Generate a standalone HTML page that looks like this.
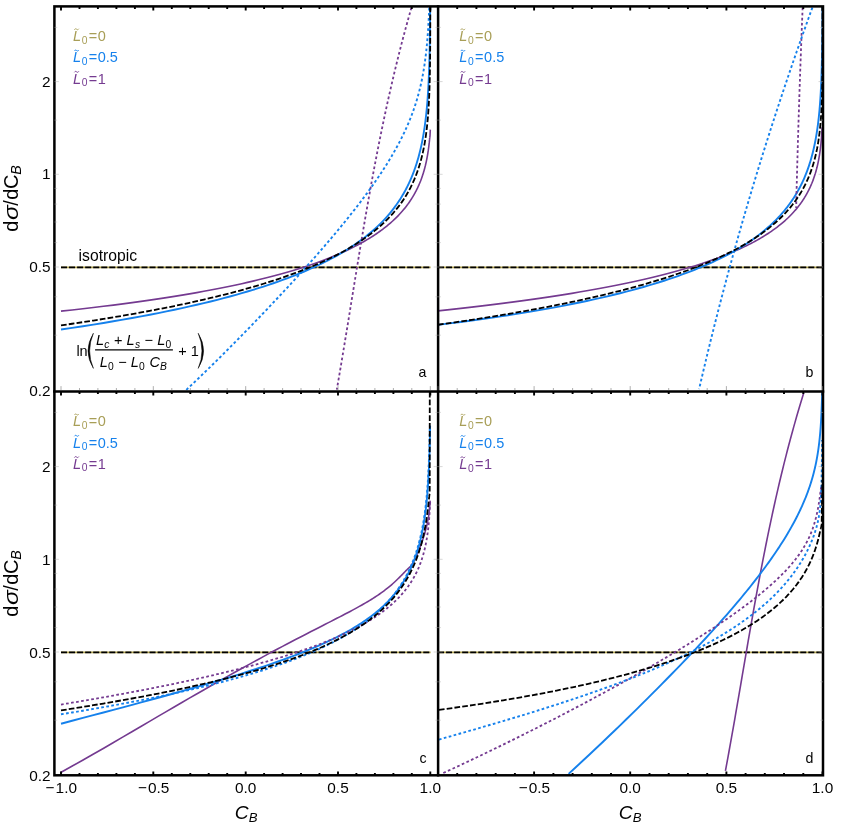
<!DOCTYPE html><html><head><meta charset="utf-8"><title>plot</title>
<style>html,body{margin:0;padding:0;background:#fff}svg{display:block}text{font-family:"Liberation Sans",sans-serif}</style></head><body>
<svg width="844" height="826" viewBox="0 0 844 826">
<rect width="844" height="826" fill="#fff"/>
<defs>
<clipPath id="cpa"><rect x="54.4" y="6.4" width="383.8" height="385.0"/></clipPath>
<clipPath id="cpb"><rect x="438.1" y="6.4" width="384.9" height="385.0"/></clipPath>
<clipPath id="cpc"><rect x="54.4" y="391.4" width="383.8" height="383.9"/></clipPath>
<clipPath id="cpd"><rect x="438.1" y="391.4" width="384.9" height="383.9"/></clipPath>
</defs>
<g clip-path="url(#cpa)" fill="none" stroke-linejoin="round">
<path d="M61.0 267.4 H430.6" stroke="#b3a552" stroke-width="1.9"/>
<path d="M61.0 267.4 H430.6" stroke="#000" stroke-width="1.8" stroke-dasharray="6.0 2.05"/>
<path d="M61.00 311.14 L72.12 309.95 L82.90 308.75 L93.35 307.54 L103.50 306.32 L113.33 305.10 L122.87 303.87 L132.13 302.64 L141.10 301.39 L149.81 300.15 L158.25 298.90 L166.44 297.64 L174.38 296.38 L182.08 295.12 L189.56 293.86 L196.80 292.59 L203.83 291.32 L210.65 290.05 L217.26 288.77 L223.67 287.50 L229.89 286.22 L235.92 284.95 L241.77 283.67 L247.45 282.40 L252.95 281.12 L258.29 279.84 L263.47 278.57 L268.49 277.30 L273.36 276.03 L278.08 274.75 L282.67 273.49 L287.11 272.22 L291.42 270.96 L295.60 269.69 L299.65 268.44 L303.59 267.18 L307.40 265.93 L311.10 264.68 L314.69 263.43 L318.17 262.19 L321.54 260.95 L324.82 259.71 L327.99 258.48 L331.07 257.25 L334.06 256.03 L336.95 254.81 L339.76 253.60 L342.49 252.39 L345.13 251.18 L347.70 249.98 L350.18 248.79 L352.59 247.60 L354.93 246.41 L357.20 245.23 L359.40 244.06 L361.54 242.89 L363.61 241.72 L365.61 240.56 L367.56 239.41 L369.45 238.26 L371.28 237.12 L373.06 235.99 L374.78 234.86 L376.45 233.73 L378.07 232.62 L379.64 231.50 L381.17 230.40 L382.65 229.30 L384.08 228.20 L385.47 227.12 L386.82 226.03 L388.13 224.96 L389.40 223.89 L390.63 222.83 L391.83 221.77 L392.98 220.72 L394.11 219.68 L395.20 218.64 L396.25 217.61 L397.28 216.58 L398.27 215.57 L399.24 214.55 L400.17 213.55 L401.08 212.55 L401.96 211.56 L402.81 210.57 L403.64 209.59 L404.44 208.62 L405.22 207.65 L405.97 206.69 L406.71 205.74 L407.42 204.79 L408.10 203.85 L408.77 202.92 L409.42 201.99 L410.05 201.07 L410.66 200.15 L411.25 199.25 L411.82 198.35 L412.38 197.45 L412.92 196.56 L413.44 195.68 L413.95 194.81 L414.44 193.94 L414.92 193.08 L415.38 192.22 L415.83 191.37 L416.27 190.53 L416.69 189.70 L417.10 188.87 L417.50 188.05 L417.88 187.23 L418.26 186.42 L418.62 185.62 L418.97 184.82 L419.31 184.03 L419.64 183.25 L419.96 182.47 L420.27 181.70 L420.58 180.94 L420.87 180.18 L421.15 179.43 L421.43 178.68 L421.69 177.94 L421.95 177.21 L422.20 176.49 L422.45 175.77 L422.68 175.06 L422.91 174.35 L423.14 173.65 L423.35 172.96 L423.56 172.27 L423.76 171.59 L423.96 170.92 L424.15 170.25 L424.34 169.59 L424.52 168.93 L424.69 168.29 L424.86 167.64 L425.02 167.01 L425.18 166.38 L425.34 165.76 L425.48 165.14 L425.63 164.53 L425.77 163.93 L425.91 163.33 L426.04 162.74 L426.17 162.15 L426.29 161.58 L426.41 161.00 L426.53 160.44 L426.64 159.88 L426.75 159.33 L426.86 158.78 L426.96 158.24 L427.06 157.71 L427.16 157.18 L427.26 156.66 L427.35 156.14 L427.44 155.63 L427.52 155.13 L427.61 154.64 L427.69 154.15 L427.77 153.66 L427.84 153.19 L427.92 152.72 L427.99 152.25 L428.06 151.79 L428.12 151.34 L428.19 150.90 L428.25 150.46 L428.32 150.03 L428.38 149.60 L428.43 149.18 L428.49 148.77 L428.54 148.36 L428.60 147.96 L428.65 147.57 L428.70 147.18 L428.75 146.80 L428.79 146.42 L428.84 146.06 L428.88 145.69 L428.92 145.34 L428.97 144.99 L429.01 144.65 L429.05 144.31 L429.08 143.98 L429.12 143.66 L429.16 143.35 L429.19 143.04 L429.22 142.73 L429.26 142.44 L429.29 142.15 L429.32 141.87 L429.35 141.59 L429.38 141.32 L429.40 141.06 L429.43 140.80 L429.46 140.55 L429.48 140.31 L429.51 140.08 L429.53 139.85 L429.55 139.63 L429.58 139.41 L429.60 139.20 L429.62 139.00 L429.64 138.81 L429.66 138.62 L429.68 138.44 L429.70 138.27 L429.72 138.10 L429.73 137.94 L429.75 137.79 L429.77 137.64 L429.78 137.51 L429.80 137.38 L429.81 137.25 L429.83 137.14 L429.84 137.03 L429.86 136.91 L429.88 136.79 L429.89 136.69 L429.91 136.60 L429.92 136.53 L429.94 136.46 L429.95 136.41 L429.96 136.37 L429.97 136.34 L429.99 136.32 L430.00 136.31 L430.30 129.60" stroke="#743a90" stroke-width="1.60"/>
<path d="M61.00 329.46 L72.12 327.83 L82.90 326.21 L93.35 324.58 L103.50 322.94 L113.33 321.30 L122.87 319.66 L132.13 318.01 L141.10 316.37 L149.81 314.72 L158.25 313.06 L166.44 311.41 L174.38 309.75 L182.08 308.10 L189.56 306.44 L196.80 304.78 L203.83 303.12 L210.65 301.46 L217.26 299.80 L223.67 298.14 L229.89 296.48 L235.92 294.82 L241.77 293.17 L247.45 291.51 L252.95 289.85 L258.29 288.20 L263.47 286.54 L268.49 284.89 L273.36 283.24 L278.08 281.59 L282.67 279.95 L287.11 278.30 L291.42 276.66 L295.60 275.02 L299.65 273.38 L303.59 271.75 L307.40 270.12 L311.10 268.49 L314.69 266.86 L318.17 265.24 L321.54 263.62 L324.82 262.00 L327.99 260.39 L331.07 258.78 L334.06 257.17 L336.95 255.57 L339.76 253.97 L342.49 252.37 L345.13 250.78 L347.70 249.19 L350.18 247.61 L352.59 246.03 L354.93 244.45 L357.20 242.88 L359.40 241.31 L361.54 239.75 L363.61 238.19 L365.61 236.63 L367.56 235.08 L369.45 233.53 L371.28 231.99 L373.06 230.45 L374.78 228.91 L376.45 227.38 L378.07 225.86 L379.64 224.34 L381.17 222.82 L382.65 221.31 L384.08 219.80 L385.47 218.30 L386.82 216.80 L388.13 215.30 L389.40 213.81 L390.63 212.33 L391.83 210.85 L392.98 209.37 L394.11 207.90 L395.20 206.43 L396.25 204.97 L397.28 203.51 L398.27 202.06 L399.24 200.61 L400.17 199.17 L401.08 197.73 L401.96 196.29 L402.81 194.86 L403.64 193.44 L404.44 192.02 L405.22 190.60 L405.97 189.19 L406.71 187.78 L407.42 186.38 L408.10 184.98 L408.77 183.59 L409.42 182.20 L410.05 180.81 L410.66 179.43 L411.25 178.06 L411.82 176.69 L412.38 175.32 L412.92 173.96 L413.44 172.60 L413.95 171.25 L414.44 169.90 L414.92 168.55 L415.38 167.21 L415.83 165.88 L416.27 164.55 L416.69 163.22 L417.10 161.90 L417.50 160.58 L417.88 159.27 L418.26 157.96 L418.62 156.65 L418.97 155.35 L419.31 154.05 L419.64 152.76 L419.96 151.47 L420.27 150.19 L420.58 148.91 L420.87 147.63 L421.15 146.36 L421.43 145.09 L421.69 143.83 L421.95 142.57 L422.20 141.32 L422.45 140.07 L422.68 138.82 L422.91 137.58 L423.14 136.34 L423.35 135.10 L423.56 133.87 L423.76 132.65 L423.96 131.42 L424.15 130.20 L424.34 128.99 L424.52 127.78 L424.69 126.57 L424.86 125.37 L425.02 124.17 L425.18 122.97 L425.34 121.78 L425.48 120.59 L425.63 119.41 L425.77 118.23 L425.91 117.05 L426.04 115.87 L426.17 114.71 L426.29 113.54 L426.41 112.38 L426.53 111.22 L426.64 110.06 L426.75 108.91 L426.86 107.76 L426.96 106.62 L427.06 105.48 L427.16 104.34 L427.26 103.21 L427.35 102.08 L427.44 100.95 L427.52 99.83 L427.61 98.71 L427.69 97.59 L427.77 96.48 L427.84 95.37 L427.92 94.26 L427.99 93.16 L428.06 92.06 L428.12 90.97 L428.19 89.87 L428.25 88.78 L428.32 87.70 L428.38 86.61 L428.43 85.54 L428.49 84.46 L428.54 83.39 L428.60 82.32 L428.65 81.25 L428.70 80.18 L428.75 79.12 L428.79 78.07 L428.84 77.01 L428.88 75.96 L428.92 74.91 L428.97 73.87 L429.01 72.83 L429.05 71.79 L429.08 70.75 L429.12 69.72 L429.16 68.69 L429.19 67.66 L429.22 66.64 L429.26 65.61 L429.29 64.60 L429.32 63.58 L429.35 62.57 L429.38 61.56 L429.40 60.55 L429.43 59.55 L429.46 58.55 L429.48 57.55 L429.51 56.55 L429.53 55.56 L429.55 54.57 L429.58 53.58 L429.60 52.60 L429.62 51.62 L429.64 50.64 L429.66 49.66 L429.68 48.69 L429.70 47.72 L429.72 46.75 L429.73 45.79 L429.75 44.82 L429.77 43.86 L429.78 42.91 L429.80 41.95 L429.81 41.00 L429.83 40.05 L429.84 39.10 L429.86 37.93 L429.88 36.77 L429.89 35.61 L429.91 34.45 L429.92 33.30 L429.94 32.15 L429.95 31.00 L429.96 29.86 L429.97 28.72 L429.99 27.59 L430.00 26.46 L430.01 25.33 L430.02 24.20 L430.03 23.08 L430.04 21.97 L430.05 20.86 L430.06 19.75 L430.07 18.64 L430.08 17.54 L430.09 16.44 L430.09 15.34 L430.10 14.25 L430.11 13.16 L430.12 12.08 L430.12 11.00 L430.13 9.92 L430.14 8.84 L430.14 7.77 L430.15 6.70 L430.15 5.64 L430.16 4.57 L430.16 3.52 L430.17 2.46 L430.17 1.41 L430.18 0.36 L430.18 -0.69 L430.19 -1.73 L430.19 -2.77 L430.20 -3.81 L430.20 -4.84 L430.20 -5.87 L430.21 -6.90 L430.21 -7.92 L430.21 -8.95 L430.22 -9.96 L430.22 -10.98 L430.22 -11.99 L430.23 -13.00 L430.23 -14.01 L430.23 -15.01 L430.23 -16.01 L430.24 -17.01 L430.24 -18.01 L430.24 -19.00 L430.24 -19.99 L430.24 -20.97 L430.25 -21.96 L430.25 -22.94 L430.25 -23.92 L430.25 -24.89 L430.25 -25.87 L430.26 -26.84 L430.26 -27.80 L430.26 -28.77 L430.26 -29.73 L430.26 -30.69 L430.26 -31.65 L430.27 -32.60 L430.27 -33.55 L430.27 -34.50 L430.27 -35.45 L430.27 -36.39 L430.27 -37.33 L430.27 -38.27 L430.27 -39.21 L430.27 -40.14" stroke="#1581ec" stroke-width="1.90"/>
<path d="M411.46 7.60 L410.07 12.44 L408.70 17.27 L407.36 22.11 L406.03 26.94 L404.72 31.78 L403.43 36.61 L402.16 41.45 L400.91 46.28 L399.67 51.12 L398.45 55.95 L397.25 60.79 L396.06 65.63 L394.89 70.46 L393.74 75.30 L392.60 80.13 L391.48 84.97 L390.37 89.80 L389.28 94.64 L388.20 99.47 L387.14 104.31 L386.08 109.14 L385.05 113.98 L384.02 118.82 L383.01 123.65 L382.01 128.49 L381.02 133.32 L380.04 138.16 L379.07 142.99 L378.12 147.83 L377.17 152.66 L376.24 157.50 L375.32 162.33 L374.40 167.17 L373.49 172.01 L372.60 176.84 L371.71 181.68 L370.83 186.51 L369.96 191.35 L369.09 196.18 L368.23 201.02 L367.38 205.85 L366.54 210.69 L365.70 215.52 L364.87 220.36 L364.04 225.19 L363.22 230.03 L362.40 234.87 L361.59 239.70 L360.78 244.54 L359.98 249.37 L359.18 254.21 L358.38 259.04 L357.58 263.88 L356.79 268.71 L356.00 273.55 L355.21 278.38 L354.42 283.22 L353.64 288.06 L352.85 292.89 L352.07 297.73 L351.28 302.56 L350.50 307.40 L349.72 312.23 L348.93 317.07 L348.14 321.90 L347.35 326.74 L346.56 331.57 L345.77 336.41 L344.97 341.25 L344.18 346.08 L343.38 350.92 L342.57 355.75 L341.76 360.59 L340.95 365.42 L340.13 370.26 L339.31 375.09 L338.48 379.93 L337.65 384.76 L336.81 389.60" stroke="#743a90" stroke-width="1.80" stroke-dasharray="2.7 2.4"/>
<path d="M186.30 389.83 L193.20 383.34 L199.90 376.95 L206.41 370.66 L212.74 364.49 L218.89 358.43 L224.86 352.49 L230.67 346.66 L236.31 340.97 L241.79 335.39 L247.12 329.93 L252.30 324.60 L257.33 319.38 L262.22 314.28 L266.97 309.29 L271.58 304.42 L276.07 299.65 L280.43 295.00 L284.66 290.45 L288.78 286.00 L292.78 281.65 L296.67 277.40 L300.44 273.24 L304.11 269.18 L307.68 265.20 L311.15 261.31 L314.51 257.51 L317.79 253.78 L320.97 250.14 L324.06 246.58 L327.06 243.09 L329.98 239.67 L332.81 236.32 L335.57 233.04 L338.24 229.83 L340.85 226.69 L343.37 223.60 L345.83 220.58 L348.22 217.62 L350.54 214.71 L352.79 211.86 L354.98 209.07 L357.11 206.32 L359.18 203.63 L361.19 200.99 L363.14 198.40 L365.04 195.85 L366.89 193.35 L368.68 190.89 L370.42 188.48 L372.11 186.10 L373.76 183.77 L375.35 181.48 L376.91 179.22 L378.42 177.01 L379.88 174.82 L381.31 172.68 L382.69 170.57 L384.04 168.49 L385.35 166.44 L386.62 164.42 L387.85 162.44 L389.05 160.48 L390.22 158.55 L391.35 156.65 L392.45 154.78 L393.52 152.93 L394.56 151.11 L395.57 149.31 L396.55 147.54 L397.51 145.79 L398.43 144.06 L399.33 142.36 L400.21 140.67 L401.06 139.01 L401.88 137.36 L402.69 135.74 L403.47 134.13 L404.23 132.55 L404.96 130.98 L405.68 129.42 L406.38 127.89 L407.05 126.37 L407.71 124.86 L408.35 123.37 L408.97 121.90 L409.57 120.44 L410.16 118.99 L410.73 117.56 L411.28 116.14 L411.82 114.73 L412.34 113.33 L412.85 111.95 L413.34 110.57 L413.82 109.21 L414.28 107.86 L414.74 106.52 L415.18 105.19 L415.60 103.87 L416.02 102.55 L416.42 101.25 L416.82 99.96 L417.20 98.67 L417.57 97.39 L417.93 96.12 L418.28 94.86 L418.62 93.61 L418.95 92.36 L419.27 91.12 L419.58 89.89 L419.88 88.66 L420.18 87.44 L420.46 86.23 L420.74 85.02 L421.01 83.82 L421.27 82.62 L421.53 81.43 L421.78 80.24 L422.02 79.06 L422.25 77.89 L422.48 76.72 L422.70 75.55 L422.92 74.39 L423.12 73.24 L423.33 72.09 L423.52 70.94 L423.72 69.80 L423.90 68.66 L424.08 67.53 L424.26 66.40 L424.43 65.28 L424.59 64.16 L424.76 63.04 L424.91 61.93 L425.06 60.82 L425.21 59.72 L425.36 58.62 L425.50 57.53 L425.63 56.44 L425.76 55.35 L425.89 54.27 L426.02 53.20 L426.14 52.12 L426.26 51.06 L426.37 49.99 L426.48 48.93 L426.59 47.88 L426.69 46.83 L426.80 45.78 L426.89 44.74 L426.99 43.71 L427.08 42.68 L427.18 41.65 L427.26 40.63 L427.35 39.62 L427.43 38.61 L427.51 37.60 L427.59 36.61 L427.67 35.61 L427.74 34.63 L427.82 33.65 L427.89 32.67 L427.95 31.70 L428.02 30.74 L428.08 29.79 L428.15 28.84 L428.21 27.90 L428.27 26.97 L428.32 26.04 L428.38 25.12 L428.43 24.21 L428.49 23.31 L428.54 22.41 L428.59 21.52 L428.64 20.65 L428.68 19.78 L428.73 18.92 L428.77 18.07 L428.82 17.22 L428.86 16.39 L428.90 15.57 L428.94 14.76 L428.98 13.95 L429.02 13.16 L429.05 12.38 L429.09 11.61 L429.12 10.86 L429.15 10.11 L429.19 9.38 L429.22 8.66 L429.25 7.95 L429.28 7.25 L429.31 6.57 L429.34 5.90 L429.36 5.24 L429.39 4.60 L429.41 3.98 L429.44 3.36 L429.46 2.77 L429.49 2.19 L429.51 1.62 L429.53 1.07 L429.55 0.54 L429.58 0.03 L429.60 -0.47 L429.62 -0.95 L429.64 -1.40 L429.65 -1.85 L429.67 -2.27 L429.69 -2.67 L429.71 -3.05 L429.72 -3.41 L429.74 -3.74 L429.76 -4.06 L429.77 -4.35 L429.79 -4.62 L429.80 -4.87 L429.82 -5.09 L429.83 -5.28 L429.84 -5.45 L429.86 -5.63 L429.88 -5.77 L429.89 -5.85 L429.91 -5.89" stroke="#1581ec" stroke-width="1.90" stroke-dasharray="2.7 2.4"/>
<path d="M61.00 325.38 L72.12 323.76 L82.90 322.15 L93.35 320.53 L103.50 318.92 L113.33 317.30 L122.87 315.69 L132.13 314.07 L141.10 312.46 L149.81 310.84 L158.25 309.23 L166.44 307.62 L174.38 306.01 L182.08 304.40 L189.56 302.79 L196.80 301.19 L203.83 299.58 L210.65 297.98 L217.26 296.39 L223.67 294.79 L229.89 293.20 L235.92 291.62 L241.77 290.03 L247.45 288.45 L252.95 286.88 L258.29 285.31 L263.47 283.74 L268.49 282.17 L273.36 280.61 L278.08 279.06 L282.67 277.51 L287.11 275.96 L291.42 274.42 L295.60 272.88 L299.65 271.35 L303.59 269.83 L307.40 268.30 L311.10 266.79 L314.69 265.28 L318.17 263.77 L321.54 262.27 L324.82 260.77 L327.99 259.28 L331.07 257.80 L334.06 256.32 L336.95 254.85 L339.76 253.38 L342.49 251.92 L345.13 250.46 L347.70 249.01 L350.18 247.56 L352.59 246.12 L354.93 244.69 L357.20 243.26 L359.40 241.84 L361.54 240.42 L363.61 239.01 L365.61 237.61 L367.56 236.21 L369.45 234.81 L371.28 233.43 L373.06 232.04 L374.78 230.67 L376.45 229.30 L378.07 227.93 L379.64 226.57 L381.17 225.22 L382.65 223.88 L384.08 222.53 L385.47 221.20 L386.82 219.87 L388.13 218.55 L389.40 217.23 L390.63 215.92 L391.83 214.61 L392.98 213.31 L394.11 212.02 L395.20 210.73 L396.25 209.44 L397.28 208.16 L398.27 206.89 L399.24 205.63 L400.17 204.37 L401.08 203.11 L401.96 201.86 L402.81 200.62 L403.64 199.38 L404.44 198.15 L405.22 196.92 L405.97 195.70 L406.71 194.48 L407.42 193.27 L408.10 192.06 L408.77 190.86 L409.42 189.67 L410.05 188.48 L410.66 187.30 L411.25 186.12 L411.82 184.94 L412.38 183.78 L412.92 182.61 L413.44 181.46 L413.95 180.30 L414.44 179.16 L414.92 178.01 L415.38 176.88 L415.83 175.75 L416.27 174.62 L416.69 173.50 L417.10 172.38 L417.50 171.27 L417.88 170.16 L418.26 169.06 L418.62 167.96 L418.97 166.87 L419.31 165.78 L419.64 164.70 L419.96 163.62 L420.27 162.55 L420.58 161.48 L420.87 160.42 L421.15 159.36 L421.43 158.31 L421.69 157.26 L421.95 156.21 L422.20 155.17 L422.45 154.14 L422.68 153.11 L422.91 152.08 L423.14 151.06 L423.35 150.04 L423.56 149.03 L423.76 148.02 L423.96 147.02 L424.15 146.02 L424.34 145.03 L424.52 144.04 L424.69 143.05 L424.86 142.07 L425.02 141.09 L425.18 140.12 L425.34 139.15 L425.48 138.18 L425.63 137.22 L425.77 136.26 L425.91 135.31 L426.04 134.36 L426.17 133.42 L426.29 132.48 L426.41 131.54 L426.53 130.61 L426.64 129.68 L426.75 128.76 L426.86 127.84 L426.96 126.92 L427.06 126.01 L427.16 125.10 L427.26 124.20 L427.35 123.30 L427.44 122.40 L427.52 121.51 L427.61 120.62 L427.69 119.73 L427.77 118.85 L427.84 117.97 L427.92 117.10 L427.99 116.23 L428.06 115.36 L428.12 114.50 L428.19 113.64 L428.25 112.78 L428.32 111.93 L428.38 111.08 L428.43 110.24 L428.49 109.39 L428.54 108.56 L428.60 107.72 L428.65 106.89 L428.70 106.06 L428.75 105.24 L428.79 104.42 L428.84 103.60 L428.88 102.79 L428.92 101.97 L428.97 101.17 L429.01 100.36 L429.05 99.56 L429.08 98.76 L429.12 97.97 L429.16 97.18 L429.19 96.39 L429.22 95.61 L429.26 94.83 L429.29 94.05 L429.32 93.27 L429.35 92.50 L429.38 91.73 L429.40 90.97 L429.43 90.20 L429.46 89.45 L429.48 88.69 L429.51 87.94 L429.53 87.19 L429.55 86.44 L429.58 85.69 L429.60 84.95 L429.62 84.22 L429.64 83.48 L429.66 82.75 L429.68 82.02 L429.70 81.29 L429.72 80.57 L429.73 79.85 L429.75 79.13 L429.77 78.42 L429.78 77.70 L429.80 76.99 L429.81 76.29 L429.83 75.59 L429.84 74.88 L429.86 74.02 L429.88 73.16 L429.89 72.31 L429.91 71.46 L429.92 70.61 L429.94 69.77 L429.95 68.93 L429.96 68.10 L429.97 67.27 L429.99 66.44 L430.00 65.62 L430.01 64.80 L430.02 63.99 L430.03 63.18 L430.04 62.37 L430.05 61.57 L430.06 60.77 L430.07 59.98 L430.08 59.18 L430.09 58.40 L430.09 57.61 L430.10 56.84 L430.11 56.06 L430.12 55.29 L430.12 54.52 L430.13 53.76 L430.14 52.99 L430.14 52.24 L430.15 51.48 L430.15 50.73 L430.16 49.99 L430.16 49.24 L430.17 48.51 L430.17 47.77 L430.18 47.04 L430.18 46.31 L430.19 45.58 L430.19 44.86 L430.20 44.14 L430.20 43.43 L430.20 42.72 L430.21 42.01 L430.21 41.30 L430.21 40.60 L430.22 39.90 L430.22 39.21 L430.22 38.52 L430.23 37.83 L430.23 37.14 L430.23 36.46 L430.23 35.78 L430.24 35.11 L430.24 34.44 L430.24 33.77 L430.24 33.10 L430.24 32.44 L430.25 31.78 L430.25 31.12 L430.25 30.47 L430.25 29.82 L430.25 29.17 L430.26 28.53 L430.26 27.89 L430.26 27.25 L430.26 26.61 L430.26 25.98 L430.26 25.35 L430.27 24.73 L430.27 24.10 L430.27 23.48 L430.27 22.87 L430.27 22.25 L430.27 21.64 L430.27 21.03 L430.27 20.43 L430.27 19.82 L430.28 19.22 L430.28 18.63 L430.28 18.03 L430.28 17.44 L430.28 16.85 L430.28 16.27 L430.28 15.68 L430.28 15.10 L430.28 14.52 L430.28 13.95 L430.28 13.38 L430.28 12.81 L430.28 12.24 L430.28 11.68 L430.29 11.12 L430.29 10.56 L430.29 10.00 L430.29 9.45 L430.29 8.90 L430.29 8.35 L430.29 7.80 L430.29 7.26 L430.29 6.72 L430.29 6.18 L430.29 5.65 L430.29 5.12 L430.29 4.59 L430.29 4.06 L430.29 3.53 L430.29 3.01 L430.29 2.49 L430.29 1.97 L430.29 1.46 L430.29 0.95 L430.29 0.44 L430.29 -0.07 L430.29 -0.58 L430.29 -1.08 L430.29 -1.58 L430.29 -2.08 L430.29 -2.57 L430.29 -3.06 L430.29 -3.55 L430.30 -4.04 L430.30 -4.53 L430.30 -5.01 L430.30 -5.49 L430.30 -5.97 L430.30 -6.44 L430.30 -6.92 L430.30 -7.39 L430.30 -7.86 L430.30 -8.33 L430.30 -8.79 L430.30 -9.25 L430.30 -9.71 L430.30 -10.17 L430.30 -10.62 L430.30 -11.08 L430.30 -11.53 L430.30 -11.97 L430.30 -12.42 L430.30 -12.86 L430.30 -13.31 L430.30 -13.75 L430.30 -14.18 L430.30 -14.62 L430.30 -15.05 L430.30 -15.48 L430.30 -15.91 L430.30 -16.33 L430.30 -16.76 L430.30 -17.18 L430.30 -17.60 L430.30 -18.02 L430.30 -18.43 L430.30 -18.84 L430.30 -19.25 L430.30 -19.66 L430.30 -20.07 L430.30 -20.47 L430.30 -20.87 L430.30 -21.27 L430.30 -21.67 L430.30 -22.07 L430.30 -22.46 L430.30 -22.85 L430.30 -23.24 L430.30 -23.63 L430.30 -24.01 L430.30 -24.40 L430.30 -24.78 L430.30 -25.16 L430.30 -25.53 L430.30 -25.91 L430.30 -26.28 L430.30 -26.65 L430.30 -27.02 L430.30 -27.39 L430.30 -27.75 L430.30 -28.11 L430.30 -28.47 L430.30 -28.83 L430.30 -29.19 L430.30 -29.54 L430.30 -29.90 L430.30 -30.25 L430.30 -30.59 L430.30 -30.94 L430.30 -31.28 L430.30 -31.63 L430.30 -31.97 L430.30 -32.31 L430.30 -32.64 L430.30 -32.98 L430.30 -33.31 L430.30 -33.64 L430.30 -33.97 L430.30 -34.29 L430.30 -34.62 L430.30 -34.94 L430.30 -35.26 L430.30 -35.58 L430.30 -35.89 L430.30 -36.21 L430.30 -36.52 L430.30 -36.83 L430.30 -37.14 L430.30 -37.45 L430.30 -37.75 L430.30 -38.06 L430.30 -38.36 L430.30 -38.66 L430.30 -38.95 L430.30 -39.25 L430.30 -39.54 L430.30 -39.83 L430.30 -40.12 L430.30 -40.41 L430.30 -40.69" stroke="#000" stroke-width="1.80" stroke-dasharray="5.7 2.15"/>
</g>
<g clip-path="url(#cpb)" fill="none" stroke-linejoin="round">
<path d="M438.0 267.4 H822.5" stroke="#b3a552" stroke-width="1.9"/>
<path d="M438.0 267.4 H822.5" stroke="#000" stroke-width="1.8" stroke-dasharray="6.0 2.05"/>
<path d="M438.00 310.85 L449.57 309.62 L460.80 308.38 L471.69 307.14 L482.25 305.90 L492.49 304.65 L502.42 303.41 L512.05 302.15 L521.40 300.90 L530.46 299.64 L539.25 298.38 L547.78 297.13 L556.05 295.86 L564.07 294.60 L571.85 293.34 L579.39 292.08 L586.71 290.82 L593.81 289.56 L600.69 288.29 L607.37 287.03 L613.84 285.77 L620.12 284.52 L626.21 283.26 L632.12 282.00 L637.85 280.75 L643.41 279.50 L648.80 278.25 L654.03 277.00 L659.10 275.75 L664.02 274.51 L668.79 273.27 L673.42 272.03 L677.90 270.80 L682.26 269.56 L686.48 268.34 L690.57 267.11 L694.54 265.89 L698.39 264.67 L702.13 263.46 L705.75 262.25 L709.27 261.04 L712.67 259.84 L715.98 258.64 L719.19 257.45 L722.30 256.26 L725.31 255.07 L728.24 253.89 L731.08 252.71 L733.83 251.54 L736.50 250.37 L739.09 249.21 L741.60 248.05 L744.03 246.90 L746.39 245.75 L748.68 244.61 L750.91 243.47 L753.06 242.34 L755.15 241.21 L757.18 240.09 L759.14 238.97 L761.05 237.85 L762.90 236.75 L764.69 235.64 L766.43 234.55 L768.12 233.46 L769.76 232.37 L771.35 231.29 L772.89 230.21 L774.38 229.14 L775.83 228.08 L777.23 227.02 L778.60 225.97 L779.92 224.92 L781.20 223.88 L782.44 222.84 L783.65 221.81 L784.82 220.78 L785.95 219.76 L787.05 218.74 L788.12 217.74 L789.15 216.73 L790.16 215.73 L791.13 214.74 L792.07 213.75 L792.99 212.77 L793.88 211.80 L794.74 210.83 L795.58 209.86 L796.39 208.90 L797.17 207.95 L797.93 207.00 L798.67 206.06 L799.39 205.12 L800.09 204.19 L800.76 203.27 L801.42 202.35 L802.05 201.43 L802.67 200.52 L803.26 199.62 L803.84 198.72 L804.40 197.83 L804.95 196.95 L805.48 196.06 L805.99 195.19 L806.49 194.32 L806.97 193.46 L807.44 192.60 L807.89 191.74 L808.33 190.90 L808.76 190.05 L809.17 189.22 L809.57 188.39 L809.96 187.56 L810.34 186.74 L810.70 185.93 L811.06 185.12 L811.40 184.31 L811.74 183.52 L812.06 182.72 L812.37 181.94 L812.68 181.15 L812.98 180.38 L813.26 179.61 L813.54 178.84 L813.81 178.08 L814.07 177.32 L814.32 176.57 L814.57 175.83 L814.81 175.09 L815.04 174.36 L815.27 173.63 L815.48 172.90 L815.69 172.19 L815.90 171.47 L816.10 170.77 L816.29 170.06 L816.48 169.37 L816.66 168.67 L816.83 167.99 L817.01 167.31 L817.17 166.63 L817.33 165.96 L817.49 165.29 L817.64 164.63 L817.78 163.98 L817.93 163.33 L818.06 162.68 L818.20 162.04 L818.33 161.41 L818.45 160.78 L818.57 160.15 L818.69 159.53 L818.81 158.92 L818.92 158.31 L819.03 157.70 L819.13 157.10 L819.23 156.51 L819.33 155.92 L819.43 155.34 L819.52 154.76 L819.61 154.18 L819.69 153.61 L819.78 153.05 L819.86 152.49 L819.94 151.94 L820.02 151.39 L820.09 150.84 L820.16 150.30 L820.24 149.77 L820.30 149.24 L820.37 148.72 L820.43 148.20 L820.50 147.68 L820.56 147.17 L820.61 146.67 L820.67 146.17 L820.73 145.68 L820.78 145.19 L820.83 144.70 L820.88 144.22 L820.93 143.75 L820.98 143.28 L821.02 142.81 L821.07 142.35 L821.11 141.90 L821.15 141.45 L821.19 141.00 L821.23 140.56 L821.27 140.13 L821.31 139.69 L821.34 139.27 L821.38 138.85 L821.41 138.43 L821.45 138.02 L821.48 137.62 L821.51 137.21 L821.54 136.82 L821.57 136.43 L821.59 136.04 L821.62 135.66 L821.65 135.28 L821.67 134.91 L821.70 134.54 L821.72 134.18 L821.75 133.83 L821.77 133.47 L821.79 133.13 L821.81 132.78 L821.83 132.45 L821.85 132.12 L821.87 131.79 L821.89 131.47 L821.91 131.15 L821.93 130.84 L821.94 130.53 L821.96 130.23 L821.98 129.93 L821.99 129.64 L822.01 129.35 L822.02 129.07 L822.04 128.72 L822.06 128.39 L822.07 128.06 L822.09 127.74 L822.11 127.43 L822.12 127.20" stroke="#743a90" stroke-width="1.60"/>
<path d="M438.00 324.86 L449.57 323.42 L460.80 321.98 L471.69 320.53 L482.25 319.06 L492.49 317.59 L502.42 316.11 L512.05 314.62 L521.40 313.13 L530.46 311.63 L539.25 310.12 L547.78 308.60 L556.05 307.08 L564.07 305.56 L571.85 304.03 L579.39 302.49 L586.71 300.95 L593.81 299.41 L600.69 297.86 L607.37 296.31 L613.84 294.76 L620.12 293.21 L626.21 291.65 L632.12 290.09 L637.85 288.53 L643.41 286.97 L648.80 285.41 L654.03 283.85 L659.10 282.28 L664.02 280.72 L668.79 279.16 L673.42 277.60 L677.90 276.04 L682.26 274.47 L686.48 272.91 L690.57 271.36 L694.54 269.80 L698.39 268.24 L702.13 266.69 L705.75 265.14 L709.27 263.59 L712.67 262.04 L715.98 260.50 L719.19 258.95 L722.30 257.41 L725.31 255.88 L728.24 254.34 L731.08 252.81 L733.83 251.28 L736.50 249.76 L739.09 248.24 L741.60 246.72 L744.03 245.21 L746.39 243.69 L748.68 242.19 L750.91 240.69 L753.06 239.19 L755.15 237.69 L757.18 236.20 L759.14 234.71 L761.05 233.23 L762.90 231.75 L764.69 230.28 L766.43 228.81 L768.12 227.34 L769.76 225.88 L771.35 224.43 L772.89 222.98 L774.38 221.53 L775.83 220.09 L777.23 218.65 L778.60 217.21 L779.92 215.79 L781.20 214.36 L782.44 212.94 L783.65 211.53 L784.82 210.12 L785.95 208.72 L787.05 207.32 L788.12 205.92 L789.15 204.53 L790.16 203.15 L791.13 201.77 L792.07 200.39 L792.99 199.02 L793.88 197.66 L794.74 196.30 L795.58 194.94 L796.39 193.59 L797.17 192.25 L797.93 190.90 L798.67 189.57 L799.39 188.24 L800.09 186.91 L800.76 185.59 L801.42 184.28 L802.05 182.97 L802.67 181.66 L803.26 180.36 L803.84 179.06 L804.40 177.77 L804.95 176.49 L805.48 175.20 L805.99 173.93 L806.49 172.66 L806.97 171.39 L807.44 170.13 L807.89 168.87 L808.33 167.62 L808.76 166.37 L809.17 165.13 L809.57 163.89 L809.96 162.66 L810.34 161.43 L810.70 160.20 L811.06 158.98 L811.40 157.77 L811.74 156.56 L812.06 155.36 L812.37 154.15 L812.68 152.96 L812.98 151.77 L813.26 150.58 L813.54 149.40 L813.81 148.22 L814.07 147.05 L814.32 145.88 L814.57 144.72 L814.81 143.56 L815.04 142.40 L815.27 141.25 L815.48 140.10 L815.69 138.96 L815.90 137.82 L816.10 136.69 L816.29 135.56 L816.48 134.44 L816.66 133.32 L816.83 132.20 L817.01 131.09 L817.17 129.98 L817.33 128.88 L817.49 127.78 L817.64 126.69 L817.78 125.60 L817.93 124.51 L818.06 123.43 L818.20 122.35 L818.33 121.27 L818.45 120.20 L818.57 119.14 L818.69 118.07 L818.81 117.02 L818.92 115.96 L819.03 114.91 L819.13 113.86 L819.23 112.82 L819.33 111.78 L819.43 110.75 L819.52 109.72 L819.61 108.69 L819.69 107.67 L819.78 106.65 L819.86 105.63 L819.94 104.62 L820.02 103.61 L820.09 102.61 L820.16 101.61 L820.24 100.61 L820.30 99.61 L820.37 98.62 L820.43 97.64 L820.50 96.66 L820.56 95.68 L820.61 94.70 L820.67 93.73 L820.73 92.76 L820.78 91.79 L820.83 90.83 L820.88 89.87 L820.93 88.92 L820.98 87.97 L821.02 87.02 L821.07 86.08 L821.11 85.13 L821.15 84.20 L821.19 83.26 L821.23 82.33 L821.27 81.40 L821.31 80.48 L821.34 79.56 L821.38 78.64 L821.41 77.72 L821.45 76.81 L821.48 75.90 L821.51 75.00 L821.54 74.10 L821.57 73.20 L821.59 72.30 L821.62 71.41 L821.65 70.52 L821.67 69.63 L821.70 68.75 L821.72 67.87 L821.75 66.99 L821.77 66.11 L821.79 65.24 L821.81 64.37 L821.83 63.51 L821.85 62.65 L821.87 61.79 L821.89 60.93 L821.91 60.07 L821.93 59.22 L821.94 58.37 L821.96 57.53 L821.98 56.69 L821.99 55.85 L822.01 55.01 L822.02 54.18 L822.04 53.15 L822.06 52.12 L822.07 51.10 L822.09 50.09 L822.11 49.07 L822.12 48.07 L822.13 47.06 L822.15 46.06 L822.16 45.07 L822.17 44.08 L822.19 43.09 L822.20 42.11 L822.21 41.13 L822.22 40.15 L822.23 39.18 L822.24 38.21 L822.25 37.25 L822.26 36.28 L822.27 35.33 L822.28 34.38 L822.28 33.43 L822.29 32.48 L822.30 31.54 L822.31 30.60 L822.31 29.67 L822.32 28.74 L822.33 27.81 L822.33 26.88 L822.34 25.96 L822.35 25.05 L822.35 24.13 L822.36 23.22 L822.36 22.32 L822.37 21.42 L822.37 20.52 L822.38 19.62 L822.38 18.73 L822.39 17.84 L822.39 16.95 L822.40 16.07 L822.40 15.19 L822.40 14.31 L822.41 13.44 L822.41 12.57 L822.41 11.71 L822.42 10.84 L822.42 9.98 L822.42 9.13 L822.43 8.27 L822.43 7.42 L822.43 6.57 L822.43 5.73 L822.44 4.89 L822.44 4.05 L822.44 3.22 L822.44 2.38 L822.44 1.55 L822.45 0.73 L822.45 -0.09 L822.45 -0.92 L822.45 -1.73 L822.45 -2.55 L822.46 -3.36 L822.46 -4.17 L822.46 -4.97 L822.46 -5.78 L822.46 -6.58 L822.46 -7.37 L822.46 -8.17 L822.47 -8.96 L822.47 -9.75 L822.47 -10.54 L822.47 -11.32 L822.47 -12.10 L822.47 -12.88 L822.47 -13.65 L822.47 -14.43 L822.48 -15.20 L822.48 -15.96 L822.48 -16.73 L822.48 -17.49 L822.48 -18.25 L822.48 -19.01 L822.48 -19.76 L822.48 -20.51 L822.48 -21.26 L822.48 -22.01 L822.48 -22.75 L822.48 -23.50 L822.48 -24.24 L822.48 -24.97 L822.49 -25.71 L822.49 -26.44 L822.49 -27.17 L822.49 -27.90 L822.49 -28.62 L822.49 -29.34 L822.49 -30.06 L822.49 -30.78 L822.49 -31.50 L822.49 -32.21 L822.49 -32.92 L822.49 -33.63 L822.49 -34.33 L822.49 -35.04 L822.49 -35.74 L822.49 -36.44 L822.49 -37.13 L822.49 -37.83 L822.49 -38.52 L822.49 -39.21 L822.49 -39.90 L822.49 -40.59" stroke="#1581ec" stroke-width="1.90"/>
<path d="M802.63 7.60 L802.53 10.14 L802.43 12.67 L802.33 15.21 L802.23 17.75 L802.13 20.28 L802.03 22.82 L801.93 25.36 L801.83 27.89 L801.73 30.43 L801.63 32.97 L801.53 35.50 L801.44 38.04 L801.34 40.58 L801.24 43.11 L801.15 45.65 L801.05 48.19 L800.96 50.72 L800.87 53.26 L800.77 55.80 L800.68 58.33 L800.59 60.87 L800.50 63.41 L800.40 65.94 L800.31 68.48 L800.22 71.02 L800.13 73.55 L800.05 76.09 L799.96 78.63 L799.87 81.16 L799.78 83.70 L799.69 86.24 L799.61 88.77 L799.52 91.31 L799.44 93.85 L799.35 96.38 L799.27 98.92 L799.18 101.46 L799.10 103.99 L799.02 106.53 L798.94 109.07 L798.86 111.61 L798.77 114.14 L798.69 116.68 L798.61 119.22 L798.53 121.75 L798.45 124.29 L798.38 126.83 L798.30 129.36 L798.22 131.90 L798.14 134.44 L798.07 136.97 L797.99 139.51 L797.92 142.05 L797.84 144.58 L797.77 147.12 L797.69 149.66 L797.62 152.19 L797.55 154.73 L797.48 157.27 L797.40 159.80 L797.33 162.34 L797.26 164.88 L797.19 167.41 L797.12 169.95 L797.05 172.49 L796.99 175.02 L796.92 177.56 L796.85 180.10 L796.78 182.63 L796.72 185.17 L796.65 187.71 L796.59 190.24 L796.52 192.78 L796.46 195.32 L796.39 197.85 L796.33 200.39 L796.27 202.93 L796.21 205.46 L796.14 208.00" stroke="#743a90" stroke-width="1.80" stroke-dasharray="2.7 2.4"/>
<path d="M812.37 7.60 L810.62 12.43 L808.87 17.26 L807.14 22.09 L805.41 26.92 L803.69 31.75 L801.97 36.57 L800.27 41.40 L798.57 46.23 L796.89 51.06 L795.21 55.89 L793.53 60.72 L791.87 65.55 L790.22 70.38 L788.57 75.21 L786.93 80.04 L785.30 84.87 L783.68 89.69 L782.06 94.52 L780.46 99.35 L778.86 104.18 L777.27 109.01 L775.69 113.84 L774.12 118.67 L772.55 123.50 L770.99 128.33 L769.45 133.16 L767.91 137.99 L766.37 142.82 L764.85 147.64 L763.33 152.47 L761.83 157.30 L760.33 162.13 L758.84 166.96 L757.35 171.79 L755.88 176.62 L754.41 181.45 L752.95 186.28 L751.50 191.11 L750.06 195.94 L748.63 200.76 L747.20 205.59 L745.78 210.42 L744.37 215.25 L742.97 220.08 L741.58 224.91 L740.20 229.74 L738.82 234.57 L737.45 239.40 L736.09 244.23 L734.74 249.06 L733.40 253.88 L732.06 258.71 L730.73 263.54 L729.42 268.37 L728.10 273.20 L726.80 278.03 L725.51 282.86 L724.22 287.69 L722.94 292.52 L721.67 297.35 L720.41 302.18 L719.16 307.01 L717.91 311.83 L716.68 316.66 L715.45 321.49 L714.23 326.32 L713.01 331.15 L711.81 335.98 L710.61 340.81 L709.43 345.64 L708.25 350.47 L707.07 355.30 L705.91 360.13 L704.76 364.95 L703.61 369.78 L702.47 374.61 L701.34 379.44 L700.22 384.27 L699.10 389.10" stroke="#1581ec" stroke-width="1.90" stroke-dasharray="2.7 2.4"/>
<path d="M438.00 324.77 L449.57 323.13 L460.80 321.49 L471.69 319.85 L482.25 318.21 L492.49 316.58 L502.42 314.94 L512.05 313.31 L521.40 311.68 L530.46 310.05 L539.25 308.43 L547.78 306.80 L556.05 305.18 L564.07 303.57 L571.85 301.95 L579.39 300.35 L586.71 298.74 L593.81 297.14 L600.69 295.55 L607.37 293.95 L613.84 292.37 L620.12 290.79 L626.21 289.21 L632.12 287.64 L637.85 286.07 L643.41 284.51 L648.80 282.96 L654.03 281.41 L659.10 279.87 L664.02 278.33 L668.79 276.80 L673.42 275.27 L677.90 273.75 L682.26 272.24 L686.48 270.73 L690.57 269.23 L694.54 267.74 L698.39 266.25 L702.13 264.77 L705.75 263.30 L709.27 261.83 L712.67 260.37 L715.98 258.91 L719.19 257.47 L722.30 256.03 L725.31 254.59 L728.24 253.17 L731.08 251.75 L733.83 250.33 L736.50 248.93 L739.09 247.53 L741.60 246.14 L744.03 244.75 L746.39 243.37 L748.68 242.00 L750.91 240.64 L753.06 239.28 L755.15 237.93 L757.18 236.58 L759.14 235.25 L761.05 233.92 L762.90 232.59 L764.69 231.28 L766.43 229.97 L768.12 228.67 L769.76 227.37 L771.35 226.08 L772.89 224.80 L774.38 223.52 L775.83 222.26 L777.23 221.00 L778.60 219.74 L779.92 218.49 L781.20 217.25 L782.44 216.02 L783.65 214.79 L784.82 213.57 L785.95 212.36 L787.05 211.15 L788.12 209.95 L789.15 208.75 L790.16 207.56 L791.13 206.38 L792.07 205.21 L792.99 204.04 L793.88 202.88 L794.74 201.72 L795.58 200.57 L796.39 199.43 L797.17 198.30 L797.93 197.17 L798.67 196.04 L799.39 194.92 L800.09 193.81 L800.76 192.71 L801.42 191.61 L802.05 190.52 L802.67 189.43 L803.26 188.35 L803.84 187.28 L804.40 186.21 L804.95 185.15 L805.48 184.09 L805.99 183.04 L806.49 182.00 L806.97 180.96 L807.44 179.92 L807.89 178.90 L808.33 177.88 L808.76 176.86 L809.17 175.85 L809.57 174.85 L809.96 173.85 L810.34 172.86 L810.70 171.87 L811.06 170.89 L811.40 169.91 L811.74 168.94 L812.06 167.98 L812.37 167.02 L812.68 166.07 L812.98 165.12 L813.26 164.18 L813.54 163.24 L813.81 162.31 L814.07 161.38 L814.32 160.46 L814.57 159.55 L814.81 158.63 L815.04 157.73 L815.27 156.83 L815.48 155.93 L815.69 155.04 L815.90 154.16 L816.10 153.28 L816.29 152.40 L816.48 151.54 L816.66 150.67 L816.83 149.81 L817.01 148.96 L817.17 148.11 L817.33 147.26 L817.49 146.42 L817.64 145.59 L817.78 144.76 L817.93 143.93 L818.06 143.11 L818.20 142.30 L818.33 141.49 L818.45 140.68 L818.57 139.88 L818.69 139.08 L818.81 138.29 L818.92 137.50 L819.03 136.72 L819.13 135.94 L819.23 135.17 L819.33 134.40 L819.43 133.63 L819.52 132.87 L819.61 132.12 L819.69 131.37 L819.78 130.62 L819.86 129.88 L819.94 129.14 L820.02 128.41 L820.09 127.68 L820.16 126.96 L820.24 126.24 L820.30 125.52 L820.37 124.81 L820.43 124.10 L820.50 123.40 L820.56 122.70 L820.61 122.01 L820.67 121.32 L820.73 120.63 L820.78 119.95 L820.83 119.27 L820.88 118.60 L820.93 117.93 L820.98 117.26 L821.02 116.60 L821.07 115.94 L821.11 115.29 L821.15 114.64 L821.19 114.00 L821.23 113.36 L821.27 112.72 L821.31 112.09 L821.34 111.46 L821.38 110.83 L821.41 110.21 L821.45 109.59 L821.48 108.98 L821.51 108.37 L821.54 107.77 L821.57 107.16 L821.59 106.57 L821.62 105.97 L821.65 105.38 L821.67 104.80 L821.70 104.21 L821.72 103.63 L821.75 103.06 L821.77 102.49 L821.79 101.92 L821.81 101.36 L821.83 100.80 L821.85 100.24 L821.87 99.69 L821.89 99.14 L821.91 98.59 L821.93 98.05 L821.94 97.52 L821.96 96.98 L821.98 96.45 L821.99 95.92 L822.01 95.40 L822.02 94.88 L822.04 94.24 L822.06 93.61 L822.07 92.98 L822.09 92.36 L822.11 91.75 L822.12 91.13 L822.13 90.53 L822.15 89.93 L822.16 89.33 L822.17 88.75 L822.19 88.16 L822.20 87.58 L822.21 87.01 L822.22 86.44 L822.23 85.88 L822.24 85.32 L822.25 84.77 L822.26 84.22 L822.27 83.68 L822.28 83.14 L822.28 82.61 L822.29 82.08 L822.30 81.56 L822.31 81.05 L822.31 80.54 L822.32 80.03 L822.33 79.53 L822.33 79.03 L822.34 78.54 L822.35 78.06 L822.35 77.58 L822.36 77.10 L822.36 76.63 L822.37 76.17 L822.37 75.71 L822.38 75.25 L822.38 74.80 L822.39 74.36 L822.39 73.92 L822.40 73.48 L822.40 73.05 L822.40 72.63 L822.41 72.21 L822.41 71.79 L822.41 71.38 L822.42 70.98 L822.42 70.58 L822.42 70.18 L822.43 69.79 L822.43 69.41 L822.43 69.03 L822.43 68.65 L822.44 68.28 L822.44 67.92 L822.44 67.56 L822.44 67.20 L822.44 66.85 L822.45 66.51 L822.45 66.17 L822.45 65.83 L822.45 65.50 L822.45 65.18 L822.46 64.86 L822.46 64.54 L822.46 64.23 L822.46 63.93 L822.46 63.63 L822.46 63.33 L822.46 63.04 L822.47 62.75 L822.47 62.47 L822.47 62.20 L822.47 61.93 L822.47 61.66 L822.47 61.40 L822.47 61.15 L822.47 60.90 L822.48 60.65 L822.48 60.41 L822.48 60.18 L822.48 59.95 L822.48 59.72 L822.48 59.50 L822.48 59.29 L822.48 59.08 L822.48 58.87 L822.48 58.67 L822.48 58.48 L822.48 58.29 L822.48 58.10 L822.48 57.93 L822.49 57.75 L822.49 57.58 L822.49 57.42 L822.49 57.26 L822.49 57.11 L822.49 56.96 L822.49 56.82 L822.49 56.68 L822.49 56.55 L822.49 56.43 L822.49 56.30 L822.49 56.19 L822.49 56.08 L822.49 55.97 L822.49 55.88 L822.49 55.78 L822.49 55.69 L822.49 55.61 L822.49 55.53 L822.49 55.46 L822.49 55.40 L822.49 55.34 L822.49 55.28 L822.49 55.23 L822.49 55.19 L822.49 55.15 L822.49 55.12 L822.49 55.09 L822.49 55.07 L822.50 55.06 L822.50 55.05 L822.50 55.05 L822.55 -0.59" stroke="#000" stroke-width="1.80" stroke-dasharray="5.7 2.15"/>
</g>
<g clip-path="url(#cpc)" fill="none" stroke-linejoin="round">
<path d="M61.0 652.4 H430.6" stroke="#b3a552" stroke-width="1.9"/>
<path d="M61.0 652.4 H430.6" stroke="#000" stroke-width="1.8" stroke-dasharray="6.0 2.05"/>
<path d="M60.70 772.44 L71.83 766.31 L82.62 760.25 L93.08 754.29 L103.24 748.45 L113.08 742.75 L122.63 737.18 L131.89 731.76 L140.88 726.49 L149.59 721.38 L158.04 716.43 L166.24 711.63 L174.18 706.99 L181.89 702.51 L189.37 698.17 L196.63 693.98 L203.66 689.94 L210.48 686.04 L217.10 682.28 L223.52 678.65 L229.74 675.15 L235.78 671.77 L241.64 668.52 L247.32 665.38 L252.82 662.35 L258.17 659.44 L263.35 656.63 L268.37 653.92 L273.25 651.31 L277.98 648.79 L282.56 646.36 L287.01 644.02 L291.32 641.75 L295.51 639.57 L299.56 637.46 L303.50 635.43 L307.32 633.46 L311.02 631.56 L314.61 629.72 L318.09 627.93 L321.47 626.21 L324.75 624.54 L327.92 622.91 L331.01 621.34 L334.00 619.81 L336.89 618.32 L339.71 616.87 L342.43 615.46 L345.08 614.08 L347.64 612.73 L350.13 611.42 L352.55 610.13 L354.89 608.86 L357.16 607.62 L359.36 606.41 L361.49 605.21 L363.57 604.03 L365.57 602.86 L367.52 601.71 L369.41 600.58 L371.25 599.45 L373.02 598.34 L374.75 597.24 L376.42 596.14 L378.04 595.06 L379.62 593.98 L381.14 592.90 L382.62 591.84 L384.06 590.78 L385.45 589.72 L386.80 588.67 L388.11 587.63 L389.38 586.59 L390.61 585.55 L391.80 584.53 L392.96 583.51 L394.09 582.49 L395.18 581.49 L396.23 580.50 L397.26 579.51 L398.26 578.54 L399.22 577.59 L400.16 576.65 L401.06 575.72 L401.94 574.82 L402.80 573.94 L403.62 573.08 L404.43 572.25 L405.21 571.45 L405.96 570.68 L406.69 569.95 L407.41 569.26 L408.09 568.61 L408.76 568.01 L409.41 567.45 L410.04 566.96 L410.65 566.52 L411.24 566.15 L411.71 565.90" stroke="#743a90" stroke-width="1.60"/>
<path d="M411.2 565.9 C412.3 563.7 415.7 557.9 417.9 552.6 C420.1 547.3 422.8 539.9 424.6 533.9 C426.4 527.9 427.7 522.1 428.6 516.6 C429.5 511.1 429.9 503.4 430.2 500.7" stroke="#743a90" stroke-width="1.60"/>
<path d="M61.00 723.73 L72.12 720.79 L82.90 717.93 L93.35 715.15 L103.50 712.46 L113.33 709.84 L122.87 707.30 L132.13 704.82 L141.10 702.40 L149.81 700.04 L158.25 697.74 L166.44 695.49 L174.38 693.29 L182.08 691.14 L189.56 689.03 L196.80 686.97 L203.83 684.95 L210.65 682.96 L217.26 681.01 L223.67 679.10 L229.89 677.22 L235.92 675.37 L241.77 673.55 L247.45 671.75 L252.95 669.99 L258.29 668.24 L263.47 666.53 L268.49 664.83 L273.36 663.15 L278.08 661.50 L282.67 659.86 L287.11 658.25 L291.42 656.65 L295.60 655.06 L299.65 653.50 L303.59 651.94 L307.40 650.40 L311.10 648.88 L314.69 647.36 L318.17 645.86 L321.54 644.37 L324.82 642.89 L327.99 641.42 L331.07 639.96 L334.06 638.51 L336.95 637.07 L339.76 635.63 L342.49 634.20 L345.13 632.78 L347.70 631.37 L350.18 629.96 L352.59 628.56 L354.93 627.16 L357.20 625.77 L359.40 624.39 L361.54 623.00 L363.61 621.63 L365.61 620.25 L367.56 618.89 L369.45 617.52 L371.28 616.16 L373.06 614.80 L374.78 613.44 L376.45 612.09 L378.07 610.74 L379.64 609.40 L381.17 608.05 L382.65 606.71 L384.08 605.37 L385.47 604.03 L386.82 602.69 L388.13 601.36 L389.40 600.03 L390.63 598.70 L391.83 597.37 L392.98 596.04 L394.11 594.71 L395.20 593.39 L396.25 592.07 L397.28 590.75 L398.27 589.43 L399.24 588.11 L400.17 586.79 L401.08 585.47 L401.96 584.16 L402.81 582.85 L403.64 581.53 L404.44 580.22 L405.22 578.91 L405.97 577.61 L406.71 576.30 L407.42 575.00 L408.10 573.69 L408.77 572.39 L409.42 571.09 L410.05 569.79 L410.66 568.50 L411.25 567.20 L411.82 565.91 L412.38 564.61 L412.92 563.32 L413.44 562.04 L413.95 560.75 L414.44 559.47 L414.92 558.18 L415.38 556.90 L415.83 555.62 L416.27 554.35 L416.69 553.08 L417.10 551.80 L417.50 550.53 L417.88 549.27 L418.26 548.00 L418.62 546.74 L418.97 545.48 L419.31 544.23 L419.64 542.97 L419.96 541.72 L420.27 540.48 L420.58 539.23 L420.87 537.99 L421.15 536.75 L421.43 535.51 L421.69 534.28 L421.95 533.05 L422.20 531.83 L422.45 530.61 L422.68 529.39 L422.91 528.17 L423.14 526.96 L423.35 525.75 L423.56 524.55 L423.76 523.35 L423.96 522.15 L424.15 520.96 L424.34 519.77 L424.52 518.59 L424.69 517.41 L424.86 516.23 L425.02 515.06 L425.18 513.89 L425.34 512.73 L425.48 511.57 L425.63 510.42 L425.77 509.27 L425.91 508.12 L426.04 506.98 L426.17 505.85 L426.29 504.72 L426.41 503.59 L426.53 502.47 L426.64 501.36 L426.75 500.25 L426.86 499.14 L426.96 498.04 L427.06 496.95 L427.16 495.86 L427.26 494.77 L427.35 493.69 L427.44 492.62 L427.52 491.55 L427.61 490.49 L427.69 489.43 L427.77 488.38 L427.84 487.34 L427.92 486.30 L427.99 485.26 L428.06 484.24 L428.12 483.21 L428.19 482.20 L428.25 481.19 L428.32 480.18 L428.38 479.18 L428.43 478.19 L428.49 477.21 L428.54 476.23 L428.60 475.25 L428.65 474.29 L428.70 473.33 L428.75 472.37 L428.79 471.42 L428.84 470.48 L428.88 469.55 L428.92 468.62 L428.97 467.70 L429.01 466.78 L429.05 465.88 L429.08 464.97 L429.12 464.08 L429.16 463.19 L429.19 462.31 L429.22 461.44 L429.26 460.57 L429.29 459.71 L429.32 458.86 L429.35 458.01 L429.38 457.18 L429.40 456.35 L429.43 455.52 L429.46 454.71 L429.48 453.90 L429.51 453.10 L429.53 452.30 L429.55 451.51 L429.58 450.74 L429.60 449.96 L429.62 449.20 L429.64 448.44 L429.66 447.70 L429.68 446.96 L429.70 446.22 L429.72 445.50 L429.73 444.78 L429.75 444.07 L429.77 443.37 L429.78 442.68 L429.80 441.99 L429.81 441.32 L429.83 440.65 L429.84 439.99 L429.86 439.19 L429.88 438.39 L429.89 437.61 L429.91 436.85 L429.92 436.10 L429.94 435.36 L429.95 434.63 L429.96 433.92 L429.97 433.22 L429.99 432.54 L430.00 431.87 L430.01 431.21 L430.02 430.57 L430.03 429.94 L430.04 429.33 L430.05 428.73 L430.06 428.15 L430.07 427.58 L430.08 427.02 L430.09 426.49 L430.09 425.96 L430.10 425.70" stroke="#1581ec" stroke-width="1.90"/>
<path d="M61.00 704.57 L72.12 702.72 L82.90 700.89 L93.35 699.08 L103.50 697.29 L113.33 695.52 L122.87 693.78 L132.13 692.05 L141.10 690.35 L149.81 688.66 L158.25 686.99 L166.44 685.34 L174.38 683.70 L182.08 682.08 L189.56 680.48 L196.80 678.90 L203.83 677.33 L210.65 675.77 L217.26 674.23 L223.67 672.71 L229.89 671.19 L235.92 669.70 L241.77 668.21 L247.45 666.74 L252.95 665.28 L258.29 663.83 L263.47 662.40 L268.49 660.98 L273.36 659.57 L278.08 658.17 L282.67 656.78 L287.11 655.40 L291.42 654.04 L295.60 652.68 L299.65 651.33 L303.59 650.00 L307.40 648.67 L311.10 647.36 L314.69 646.05 L318.17 644.75 L321.54 643.47 L324.82 642.19 L327.99 640.92 L331.07 639.66 L334.06 638.40 L336.95 637.16 L339.76 635.92 L342.49 634.69 L345.13 633.48 L347.70 632.26 L350.18 631.06 L352.59 629.86 L354.93 628.67 L357.20 627.49 L359.40 626.32 L361.54 625.15 L363.61 623.99 L365.61 622.84 L367.56 621.70 L369.45 620.56 L371.28 619.43 L373.06 618.30 L374.78 617.18 L376.45 616.07 L378.07 614.96 L379.64 613.87 L381.17 612.77 L382.65 611.69 L384.08 610.61 L385.47 609.53 L386.82 608.47 L388.13 607.41 L389.40 606.35 L390.63 605.30 L391.83 604.26 L392.98 603.22 L394.11 602.19 L395.20 601.16 L396.25 600.14 L397.28 599.13 L398.27 598.12 L399.24 597.11 L400.17 596.11 L401.08 595.12 L401.96 594.13 L402.81 593.15 L403.64 592.18 L404.44 591.21 L405.22 590.24 L405.97 589.28 L406.71 588.33 L407.42 587.38 L408.10 586.43 L408.77 585.49 L409.42 584.56 L410.05 583.63 L410.66 582.71 L411.25 581.79 L411.82 580.87 L412.38 579.97 L412.92 579.06 L413.44 578.16 L413.95 577.27 L414.44 576.38 L414.92 575.50 L415.38 574.62 L415.83 573.75 L416.27 572.88 L416.69 572.02 L417.10 571.16 L417.50 570.31 L417.88 569.46 L418.26 568.61 L418.62 567.78 L418.97 566.94 L419.31 566.11 L419.64 565.29 L419.96 564.47 L420.27 563.66 L420.58 562.85 L420.87 562.04 L421.15 561.24 L421.43 560.45 L421.69 559.66 L421.95 558.87 L422.20 558.09 L422.45 557.32 L422.68 556.55 L422.91 555.78 L423.14 555.02 L423.35 554.26 L423.56 553.51 L423.76 552.77 L423.96 552.03 L424.15 551.29 L424.34 550.56 L424.52 549.83 L424.69 549.11 L424.86 548.39 L425.02 547.68 L425.18 546.97 L425.34 546.27 L425.48 545.57 L425.63 544.88 L425.77 544.19 L425.91 543.51 L426.04 542.83 L426.17 542.16 L426.29 541.49 L426.41 540.83 L426.53 540.17 L426.64 539.52 L426.75 538.87 L426.86 538.23 L426.96 537.59 L427.06 536.96 L427.16 536.33 L427.26 535.71 L427.35 535.09 L427.44 534.48 L427.52 533.87 L427.61 533.27 L427.69 532.67 L427.77 532.08 L427.84 531.49 L427.92 530.91 L427.99 530.33 L428.06 529.76 L428.12 529.19 L428.19 528.63 L428.25 528.08 L428.32 527.52 L428.38 526.98 L428.43 526.44 L428.49 525.90 L428.54 525.38 L428.60 524.85 L428.65 524.33 L428.70 523.82 L428.75 523.31 L428.79 522.81 L428.84 522.31 L428.88 521.82 L428.92 521.33 L428.97 520.85 L429.01 520.38 L429.05 519.91 L429.08 519.45 L429.12 518.99 L429.16 518.54 L429.19 518.09 L429.22 517.65 L429.26 517.21 L429.29 516.78 L429.32 516.36 L429.35 515.94 L429.38 515.53 L429.40 515.13 L429.43 514.73 L429.46 514.33 L429.48 513.94 L429.51 513.56 L429.53 513.19 L429.55 512.82 L429.58 512.45 L429.60 512.10 L429.62 511.74 L429.64 511.40 L429.66 511.06 L429.68 510.73 L429.70 510.40 L429.72 510.08 L429.73 509.77 L429.75 509.46 L429.77 509.16 L429.78 508.87 L429.80 508.58 L429.81 508.30 L429.83 508.03 L429.84 507.77 L429.86 507.45 L429.88 507.14 L429.89 506.84 L429.91 506.55 L429.92 506.27 L429.94 506.01 L429.95 505.75 L429.96 505.51 L429.97 505.27 L429.99 505.05 L430.00 504.84 L430.01 504.65 L430.02 504.46 L430.03 504.29 L430.04 504.12 L430.05 503.97 L430.06 503.84 L430.07 503.71 L430.08 503.60 L430.09 503.50 L430.09 503.42 L430.10 503.34 L430.11 503.28 L430.12 503.24 L430.12 503.21 L430.13 503.19 L430.14 503.18 L430.20 500.70" stroke="#743a90" stroke-width="1.80" stroke-dasharray="2.7 2.4"/>
<path d="M61.00 714.30 L72.12 712.50 L82.90 710.71 L93.35 708.93 L103.50 707.16 L113.33 705.40 L122.87 703.65 L132.13 701.90 L141.10 700.17 L149.81 698.44 L158.25 696.71 L166.44 695.00 L174.38 693.29 L182.08 691.59 L189.56 689.89 L196.80 688.21 L203.83 686.52 L210.65 684.85 L217.26 683.18 L223.67 681.52 L229.89 679.86 L235.92 678.21 L241.77 676.56 L247.45 674.92 L252.95 673.29 L258.29 671.66 L263.47 670.04 L268.49 668.42 L273.36 666.81 L278.08 665.20 L282.67 663.60 L287.11 662.00 L291.42 660.41 L295.60 658.82 L299.65 657.23 L303.59 655.65 L307.40 654.08 L311.10 652.51 L314.69 650.95 L318.17 649.39 L321.54 647.83 L324.82 646.28 L327.99 644.73 L331.07 643.19 L334.06 641.65 L336.95 640.11 L339.76 638.58 L342.49 637.05 L345.13 635.53 L347.70 634.01 L350.18 632.50 L352.59 630.99 L354.93 629.48 L357.20 627.97 L359.40 626.48 L361.54 624.98 L363.61 623.49 L365.61 622.00 L367.56 620.52 L369.45 619.03 L371.28 617.56 L373.06 616.08 L374.78 614.61 L376.45 613.15 L378.07 611.68 L379.64 610.23 L381.17 608.77 L382.65 607.32 L384.08 605.87 L385.47 604.42 L386.82 602.98 L388.13 601.54 L389.40 600.11 L390.63 598.68 L391.83 597.25 L392.98 595.83 L394.11 594.40 L395.20 592.99 L396.25 591.57 L397.28 590.16 L398.27 588.75 L399.24 587.35 L400.17 585.95 L401.08 584.55 L401.96 583.16 L402.81 581.77 L403.64 580.38 L404.44 578.99 L405.22 577.61 L405.97 576.23 L406.71 574.86 L407.42 573.49 L408.10 572.12 L408.77 570.75 L409.42 569.39 L410.05 568.03 L410.66 566.68 L411.25 565.32 L411.82 563.97 L412.38 562.63 L412.92 561.29 L413.44 559.95 L413.95 558.61 L414.44 557.28 L414.92 555.95 L415.38 554.62 L415.83 553.29 L416.27 551.97 L416.69 550.66 L417.10 549.34 L417.50 548.03 L417.88 546.72 L418.26 545.41 L418.62 544.11 L418.97 542.81 L419.31 541.52 L419.64 540.22 L419.96 538.93 L420.27 537.65 L420.58 536.36 L420.87 535.08 L421.15 533.80 L421.43 532.53 L421.69 531.26 L421.95 529.99 L422.20 528.72 L422.45 527.46 L422.68 526.20 L422.91 524.94 L423.14 523.69 L423.35 522.44 L423.56 521.19 L423.76 519.94 L423.96 518.70 L424.15 517.46 L424.34 516.23 L424.52 514.99 L424.69 513.76 L424.86 512.54 L425.02 511.31 L425.18 510.09 L425.34 508.87 L425.48 507.66 L425.63 506.45 L425.77 505.24 L425.91 504.03 L426.04 502.83 L426.17 501.62 L426.29 500.43 L426.41 499.23 L426.53 498.04 L426.64 496.85 L426.75 495.66 L426.86 494.48 L426.96 493.30 L427.06 492.12 L427.16 490.95 L427.26 489.77 L427.35 488.60 L427.44 487.44 L427.52 486.27 L427.61 485.11 L427.69 483.95 L427.77 482.80 L427.84 481.65 L427.92 480.50 L427.99 479.35 L428.06 478.20 L428.12 477.06 L428.19 475.92 L428.25 474.79 L428.32 473.65 L428.38 472.52 L428.43 471.40 L428.49 470.27 L428.54 469.15 L428.60 468.03 L428.65 466.91 L428.70 465.80 L428.75 464.69 L428.79 463.58 L428.84 462.47 L428.88 461.37 L428.92 460.27 L428.97 459.17 L429.01 458.07 L429.05 456.98 L429.08 455.89 L429.12 454.80 L429.16 453.72 L429.19 452.63 L429.22 451.55 L429.26 450.48 L429.29 449.40 L429.32 448.33 L429.35 447.26 L429.38 446.20 L429.40 445.13 L429.43 444.07 L429.46 443.01 L429.48 441.95 L429.51 440.90 L429.53 439.85 L429.55 438.80 L429.58 437.75 L429.60 436.71 L429.62 435.67 L429.64 434.63 L429.66 433.59 L429.68 432.56 L429.70 431.53 L429.72 430.50 L429.73 429.47 L429.75 428.45 L429.77 427.43 L429.78 426.41 L429.79 425.70" stroke="#1581ec" stroke-width="1.90" stroke-dasharray="2.7 2.4"/>
<path d="M61.00 710.40 L72.12 708.66 L82.90 706.93 L93.35 705.22 L103.50 703.52 L113.33 701.83 L122.87 700.15 L132.13 698.49 L141.10 696.83 L149.81 695.18 L158.25 693.54 L166.44 691.90 L174.38 690.28 L182.08 688.66 L189.56 687.05 L196.80 685.45 L203.83 683.86 L210.65 682.27 L217.26 680.69 L223.67 679.11 L229.89 677.54 L235.92 675.98 L241.77 674.42 L247.45 672.87 L252.95 671.32 L258.29 669.78 L263.47 668.24 L268.49 666.71 L273.36 665.18 L278.08 663.66 L282.67 662.14 L287.11 660.63 L291.42 659.12 L295.60 657.61 L299.65 656.11 L303.59 654.62 L307.40 653.13 L311.10 651.64 L314.69 650.15 L318.17 648.68 L321.54 647.20 L324.82 645.73 L327.99 644.26 L331.07 642.80 L334.06 641.34 L336.95 639.89 L339.76 638.44 L342.49 637.00 L345.13 635.55 L347.70 634.12 L350.18 632.68 L352.59 631.26 L354.93 629.83 L357.20 628.41 L359.40 627.00 L361.54 625.58 L363.61 624.18 L365.61 622.77 L367.56 621.38 L369.45 619.98 L371.28 618.59 L373.06 617.21 L374.78 615.83 L376.45 614.46 L378.07 613.09 L379.64 611.72 L381.17 610.36 L382.65 609.01 L384.08 607.65 L385.47 606.31 L386.82 604.97 L388.13 603.63 L389.40 602.30 L390.63 600.98 L391.83 599.66 L392.98 598.35 L394.11 597.04 L395.20 595.73 L396.25 594.44 L397.28 593.14 L398.27 591.86 L399.24 590.58 L400.17 589.30 L401.08 588.03 L401.96 586.77 L402.81 585.51 L403.64 584.26 L404.44 583.02 L405.22 581.78 L405.97 580.54 L406.71 579.32 L407.42 578.10 L408.10 576.88 L408.77 575.67 L409.42 574.47 L410.05 573.28 L410.66 572.09 L411.25 570.91 L411.82 569.73 L412.38 568.56 L412.92 567.40 L413.44 566.24 L413.95 565.10 L414.44 563.95 L414.92 562.82 L415.38 561.69 L415.83 560.57 L416.27 559.46 L416.69 558.35 L417.10 557.25 L417.50 556.16 L417.88 555.07 L418.26 554.00 L418.62 552.93 L418.97 551.86 L419.31 550.81 L419.64 549.76 L419.96 548.72 L420.27 547.69 L420.58 546.66 L420.87 545.65 L421.15 544.64 L421.43 543.64 L421.69 542.64 L421.95 541.66 L422.20 540.68 L422.45 539.71 L422.68 538.75 L422.91 537.80 L423.14 536.85 L423.35 535.91 L423.56 534.99 L423.76 534.06 L423.96 533.15 L424.15 532.25 L424.34 531.35 L424.52 530.47 L424.69 529.59 L424.86 528.72 L425.02 527.86 L425.18 527.01 L425.34 526.17 L425.48 525.33 L425.63 524.51 L425.77 523.69 L425.91 522.88 L426.04 522.08 L426.17 521.29 L426.29 520.52 L426.41 519.74 L426.53 518.98 L426.64 518.23 L426.75 517.49 L426.86 516.76 L426.96 516.03 L427.06 515.32 L427.16 514.61 L427.26 513.92 L427.35 513.24 L427.44 512.56 L427.52 511.90 L427.61 511.24 L427.69 510.60 L427.77 509.96 L427.84 509.34 L427.92 508.73 L427.99 508.12 L428.06 507.53 L428.12 506.95 L428.19 506.38 L428.25 505.82 L428.32 505.27 L428.38 504.73 L428.43 504.20 L428.49 503.68 L428.54 503.18 L428.60 502.68 L428.65 502.20 L428.70 501.73 L428.75 501.27 L428.79 500.82 L428.84 500.39 L428.88 499.96 L428.92 499.55 L428.97 499.15 L429.01 498.76 L429.05 498.39 L429.08 498.03 L429.12 497.68 L429.16 497.34 L429.19 497.02 L429.22 496.70 L429.26 496.41 L429.29 496.12 L429.32 495.85 L429.35 495.59 L429.38 495.35 L429.40 495.12 L429.43 494.91 L429.46 494.71 L429.48 494.52 L429.51 494.35 L429.53 494.19 L429.55 494.05 L429.58 493.93 L429.60 493.81 L429.62 493.72 L429.64 493.64 L429.66 493.58 L429.68 493.53 L429.70 493.50 L429.72 493.49 L429.77 384.21" stroke="#000" stroke-width="1.80" stroke-dasharray="5.7 2.15"/>
</g>
<g clip-path="url(#cpd)" fill="none" stroke-linejoin="round">
<path d="M438.0 652.4 H822.5" stroke="#b3a552" stroke-width="1.9"/>
<path d="M438.0 652.4 H822.5" stroke="#000" stroke-width="1.8" stroke-dasharray="6.0 2.05"/>
<path d="M803.72 392.90 L802.25 397.68 L800.80 402.47 L799.37 407.25 L797.96 412.04 L796.57 416.82 L795.21 421.61 L793.86 426.39 L792.53 431.18 L791.23 435.96 L789.94 440.75 L788.67 445.53 L787.42 450.32 L786.19 455.10 L784.98 459.89 L783.78 464.67 L782.60 469.46 L781.43 474.24 L780.29 479.03 L779.15 483.81 L778.04 488.60 L776.94 493.38 L775.85 498.17 L774.77 502.95 L773.72 507.74 L772.67 512.52 L771.64 517.31 L770.62 522.09 L769.61 526.87 L768.61 531.66 L767.63 536.44 L766.65 541.23 L765.69 546.01 L764.74 550.80 L763.79 555.58 L762.86 560.37 L761.94 565.15 L761.02 569.94 L760.11 574.72 L759.22 579.51 L758.32 584.29 L757.44 589.08 L756.56 593.86 L755.69 598.65 L754.83 603.43 L753.97 608.22 L753.12 613.00 L752.27 617.79 L751.42 622.57 L750.58 627.36 L749.75 632.14 L748.91 636.93 L748.08 641.71 L747.26 646.49 L746.43 651.28 L745.61 656.06 L744.79 660.85 L743.97 665.63 L743.15 670.42 L742.33 675.20 L741.51 679.99 L740.69 684.77 L739.87 689.56 L739.05 694.34 L738.22 699.13 L737.40 703.91 L736.57 708.70 L735.74 713.48 L734.91 718.27 L734.07 723.05 L733.23 727.84 L732.38 732.62 L731.53 737.41 L730.68 742.19 L729.82 746.98 L728.95 751.76 L728.08 756.55 L727.20 761.33 L726.31 766.12 L725.42 770.90" stroke="#743a90" stroke-width="1.60"/>
<path d="M568.60 773.83 L575.78 767.25 L582.75 760.80 L589.52 754.48 L596.11 748.28 L602.51 742.22 L608.72 736.29 L614.76 730.49 L620.63 724.82 L626.34 719.28 L631.88 713.86 L637.27 708.57 L642.50 703.40 L647.59 698.34 L652.53 693.41 L657.34 688.58 L662.00 683.87 L666.54 679.26 L670.95 674.76 L675.23 670.36 L679.39 666.06 L683.44 661.85 L687.37 657.74 L691.19 653.72 L694.90 649.78 L698.50 645.94 L702.01 642.17 L705.41 638.49 L708.72 634.88 L711.94 631.35 L715.06 627.90 L718.10 624.51 L721.05 621.20 L723.92 617.95 L726.70 614.77 L729.41 611.66 L732.04 608.61 L734.60 605.61 L737.08 602.68 L739.49 599.81 L741.84 596.99 L744.12 594.22 L746.33 591.51 L748.49 588.85 L750.58 586.23 L752.61 583.67 L754.59 581.16 L756.51 578.69 L758.37 576.26 L760.18 573.88 L761.94 571.55 L763.65 569.25 L765.32 567.00 L766.93 564.78 L768.50 562.60 L770.03 560.46 L771.51 558.36 L772.95 556.29 L774.35 554.26 L775.71 552.26 L777.04 550.29 L778.32 548.36 L779.57 546.45 L780.78 544.58 L781.96 542.74 L783.11 540.93 L784.22 539.14 L785.30 537.38 L786.35 535.65 L787.38 533.95 L788.37 532.27 L789.33 530.61 L790.27 528.99 L791.18 527.38 L792.07 525.80 L792.93 524.24 L793.76 522.70 L794.57 521.18 L795.36 519.69 L796.13 518.21 L796.88 516.76 L797.60 515.32 L798.30 513.91 L798.99 512.51 L799.65 511.13 L800.30 509.77 L800.92 508.42 L801.53 507.10 L802.13 505.78 L802.70 504.49 L803.26 503.21 L803.81 501.94 L804.33 500.69 L804.85 499.46 L805.35 498.24 L805.83 497.03 L806.30 495.83 L806.76 494.65 L807.20 493.48 L807.64 492.32 L808.06 491.18 L808.47 490.04 L808.86 488.92 L809.25 487.81 L809.62 486.71 L809.99 485.62 L810.34 484.54 L810.68 483.47 L811.02 482.41 L811.34 481.36 L811.66 480.31 L811.96 479.28 L812.26 478.26 L812.55 477.24 L812.83 476.23 L813.10 475.23 L813.37 474.24 L813.63 473.26 L813.88 472.28 L814.12 471.31 L814.36 470.35 L814.59 469.39 L814.81 468.44 L815.03 467.50 L815.24 466.56 L815.45 465.63 L815.65 464.70 L815.84 463.78 L816.03 462.87 L816.21 461.96 L816.39 461.05 L816.56 460.16 L816.73 459.26 L816.89 458.37 L817.05 457.49 L817.20 456.61 L817.35 455.74 L817.50 454.87 L817.64 454.00 L817.78 453.14 L817.91 452.28 L818.04 451.43 L818.17 450.58 L818.29 449.74 L818.41 448.90 L818.52 448.06 L818.64 447.22 L818.75 446.39 L818.85 445.57 L818.96 444.74 L819.06 443.93 L819.15 443.11 L819.25 442.30 L819.34 441.49 L819.43 440.68 L819.52 439.88 L819.60 439.08 L819.68 438.29 L819.76 437.49 L819.84 436.71 L819.91 435.92 L819.99 435.14 L820.06 434.36 L820.13 433.59 L820.19 432.81 L820.26 432.05 L820.32 431.28 L820.38 430.52 L820.44 429.76 L820.50 429.01 L820.56 428.26 L820.61 427.51 L820.67 426.77 L820.72 426.03 L820.77 425.29 L820.82 424.56 L820.87 423.83 L820.91 423.11 L820.96 422.39 L821.00 421.68 L821.04 420.97 L821.08 420.26 L821.12 419.56 L821.16 418.86 L821.20 418.17 L821.24 417.48 L821.27 416.80 L821.31 416.12 L821.34 415.45 L821.37 414.78 L821.41 414.12 L821.44 413.46 L821.47 412.81 L821.50 412.17 L821.52 411.53 L821.55 410.90 L821.58 410.27 L821.60 409.65 L821.63 409.04 L821.65 408.43 L821.68 407.83 L821.70 407.24 L821.72 406.66 L821.75 406.08 L821.77 405.51 L821.79 404.95 L821.81 404.39 L821.83 403.85 L821.85 403.31 L821.87 402.78 L821.88 402.26 L821.90 401.75 L821.92 401.25 L821.93 400.76 L821.95 400.28 L821.97 399.81 L821.98 399.34 L822.00 398.89 L822.01 398.45 L822.02 398.03 L822.04 397.48 L822.06 396.95 L822.07 396.44 L822.09 395.96 L822.11 395.50 L822.12 395.06 L822.13 394.64 L822.15 394.25 L822.16 393.89 L822.17 393.55 L822.19 393.24 L822.20 392.96 L822.21 392.71 L822.22 392.49 L822.23 392.30 L822.24 392.14 L822.25 392.02 L822.26 391.93 L822.27 391.88 L822.28 391.86 L822.33 384.21" stroke="#1581ec" stroke-width="1.90"/>
<path d="M443.30 773.03 L454.69 767.77 L465.74 762.59 L476.46 757.51 L486.85 752.53 L496.93 747.65 L506.71 742.86 L516.20 738.18 L525.40 733.59 L534.32 729.11 L542.98 724.72 L551.38 720.43 L559.52 716.23 L567.42 712.12 L575.08 708.11 L582.51 704.19 L589.72 700.35 L596.72 696.60 L603.50 692.94 L610.08 689.36 L616.46 685.86 L622.65 682.43 L628.65 679.08 L634.47 675.81 L640.12 672.61 L645.60 669.48 L650.91 666.42 L656.07 663.43 L661.07 660.50 L665.92 657.64 L670.62 654.84 L675.18 652.10 L679.61 649.42 L683.90 646.79 L688.06 644.23 L692.10 641.71 L696.02 639.25 L699.82 636.84 L703.50 634.48 L707.08 632.17 L710.54 629.91 L713.91 627.69 L717.17 625.52 L720.33 623.39 L723.40 621.31 L726.38 619.26 L729.27 617.26 L732.07 615.29 L734.78 613.37 L737.42 611.48 L739.97 609.62 L742.45 607.80 L744.86 606.02 L747.19 604.27 L749.45 602.55 L751.65 600.86 L753.77 599.20 L755.84 597.58 L757.84 595.98 L759.78 594.40 L761.67 592.86 L763.49 591.34 L765.27 589.85 L766.99 588.38 L768.65 586.94 L770.27 585.52 L771.84 584.12 L773.36 582.75 L774.84 581.40 L776.27 580.06 L777.66 578.75 L779.01 577.46 L780.31 576.18 L781.58 574.93 L782.81 573.69 L784.00 572.47 L785.16 571.26 L786.28 570.07 L787.37 568.90 L788.42 567.74 L789.45 566.60 L790.44 565.47 L791.40 564.36 L792.34 563.25 L793.24 562.16 L794.12 561.09 L794.97 560.02 L795.80 558.96 L796.60 557.92 L797.38 556.89 L798.13 555.86 L798.87 554.85 L799.58 553.85 L800.27 552.85 L800.93 551.87 L801.58 550.89 L802.21 549.92 L802.82 548.96 L803.41 548.00 L803.98 547.06 L804.54 546.11 L805.08 545.18 L805.60 544.25 L806.11 543.33 L806.60 542.42 L807.08 541.51 L807.54 540.60 L807.99 539.70 L808.43 538.81 L808.85 537.92 L809.26 537.04 L809.66 536.16 L810.04 535.28 L810.42 534.41 L810.78 533.54 L811.13 532.68 L811.47 531.82 L811.81 530.97 L812.13 530.12 L812.44 529.27 L812.74 528.43 L813.03 527.59 L813.32 526.75 L813.59 525.92 L813.86 525.09 L814.12 524.26 L814.37 523.44 L814.62 522.62 L814.85 521.80 L815.08 520.99 L815.31 520.18 L815.52 519.38 L815.73 518.58 L815.94 517.78 L816.13 516.98 L816.32 516.20 L816.51 515.41 L816.69 514.63 L816.86 513.85 L817.03 513.08 L817.20 512.31 L817.36 511.55 L817.51 510.79 L817.66 510.04 L817.81 509.29 L817.95 508.55 L818.08 507.81 L818.22 507.08 L818.35 506.36 L818.47 505.64 L818.59 504.93 L818.71 504.23 L818.82 503.53 L818.93 502.84 L819.04 502.16 L819.14 501.49 L819.24 500.82 L819.34 500.17 L819.44 499.52 L819.53 498.88 L819.62 498.26 L819.71 497.64 L819.79 497.03 L819.87 496.44 L819.95 495.85 L820.03 495.28 L820.10 494.72 L820.17 494.17 L820.24 493.64 L820.31 493.12 L820.38 492.61 L820.44 492.12 L820.50 491.64 L820.56 491.18 L820.62 490.74 L820.68 490.31 L820.73 489.90 L820.78 489.51 L820.84 489.13 L820.89 488.78 L820.93 488.44 L820.98 488.13 L821.03 487.84 L821.07 487.57 L821.11 487.32 L821.16 487.10 L821.20 486.90 L821.22 486.80" stroke="#743a90" stroke-width="1.80" stroke-dasharray="2.7 2.4"/>
<path d="M438.90 739.56 L450.44 736.30 L461.64 733.12 L472.50 730.01 L483.03 726.96 L493.24 723.97 L503.15 721.05 L512.76 718.17 L522.08 715.35 L531.12 712.58 L539.89 709.85 L548.39 707.17 L556.64 704.53 L564.64 701.93 L572.40 699.37 L579.92 696.84 L587.22 694.35 L594.30 691.89 L601.17 689.46 L607.83 687.06 L614.29 684.69 L620.55 682.35 L626.63 680.04 L632.52 677.75 L638.24 675.49 L643.78 673.26 L649.16 671.04 L654.38 668.85 L659.43 666.69 L664.34 664.54 L669.10 662.42 L673.72 660.32 L678.19 658.24 L682.53 656.18 L686.75 654.13 L690.83 652.11 L694.79 650.11 L698.64 648.13 L702.36 646.17 L705.98 644.22 L709.48 642.29 L712.88 640.38 L716.18 638.49 L719.38 636.62 L722.48 634.76 L725.49 632.93 L728.41 631.10 L731.24 629.30 L733.99 627.51 L736.65 625.74 L739.24 623.99 L741.74 622.25 L744.17 620.53 L746.53 618.83 L748.81 617.14 L751.03 615.47 L753.18 613.82 L755.27 612.18 L757.29 610.56 L759.25 608.95 L761.16 607.37 L763.00 605.79 L764.79 604.23 L766.53 602.69 L768.21 601.17 L769.85 599.66 L771.43 598.16 L772.97 596.68 L774.46 595.22 L775.90 593.77 L777.30 592.34 L778.66 590.92 L779.98 589.52 L781.26 588.14 L782.50 586.76 L783.71 585.41 L784.87 584.07 L786.01 582.74 L787.10 581.43 L788.17 580.14 L789.20 578.85 L790.20 577.59 L791.18 576.34 L792.12 575.10 L793.03 573.88 L793.92 572.67 L794.78 571.48 L795.61 570.30 L796.42 569.13 L797.21 567.98 L797.97 566.84 L798.71 565.72 L799.42 564.61 L800.12 563.51 L800.79 562.43 L801.44 561.36 L802.08 560.30 L802.69 559.26 L803.29 558.23 L803.87 557.22 L804.43 556.21 L804.97 555.22 L805.50 554.24 L806.01 553.28 L806.51 552.32 L806.99 551.38 L807.45 550.45 L807.91 549.53 L808.35 548.63 L808.77 547.73 L809.18 546.85 L809.59 545.97 L809.97 545.11 L810.35 544.26 L810.72 543.42 L811.07 542.59 L811.41 541.77 L811.75 540.96 L812.07 540.16 L812.39 539.37 L812.69 538.59 L812.99 537.82 L813.27 537.06 L813.55 536.30 L813.82 535.56 L814.08 534.82 L814.33 534.09 L814.58 533.37 L814.82 532.66 L815.05 531.95 L815.27 531.25 L815.49 530.55 L815.70 529.87 L815.91 529.18 L816.10 528.51 L816.30 527.84 L816.48 527.17 L816.66 526.51 L816.84 525.86 L817.01 525.20 L817.18 524.56 L817.34 523.91 L817.49 523.27 L817.64 522.63 L817.79 521.99 L817.93 521.36 L818.07 520.73 L818.20 520.09 L818.33 519.46 L818.46 518.83 L818.58 518.20 L818.70 517.57 L818.81 516.94 L818.92 516.30 L819.03 515.67 L819.13 515.03 L819.23 514.39 L819.33 513.74 L819.43 513.10 L819.52 512.45 L819.61 511.79 L819.70 511.13 L819.78 510.46 L819.86 509.79 L819.94 509.11 L820.02 508.43 L820.09 507.73 L820.17 507.03 L820.24 506.32 L820.30 505.60 L820.37 504.87 L820.43 504.13 L820.50 503.38 L820.56 502.62 L820.62 501.85 L820.67 501.07 L820.73 500.27 L820.78 499.46 L820.83 498.64 L820.88 497.80 L820.93 496.95 L820.98 496.08 L821.02 495.20 L821.07 494.30 L821.11 493.38 L821.15 492.44 L821.19 491.49 L821.23 490.52 L821.27 489.54 L821.31 488.53 L821.34 487.50 L821.38 486.45 L821.41 485.39 L821.45 484.30 L821.48 483.19 L821.51 482.06 L821.54 480.91 L821.57 479.73 L821.59 478.54 L821.62 477.32 L821.65 476.07 L821.67 474.81 L821.70 473.52 L821.72 472.20 L821.75 470.86 L821.77 469.50 L821.79 468.12 L821.81 466.70 L821.83 465.27 L821.85 463.81 L821.87 462.32 L821.89 460.81 L821.91 459.27 L821.93 457.71 L821.94 456.12 L821.96 454.51 L821.98 452.87 L821.99 451.21 L822.01 449.52 L822.02 447.81 L822.04 445.65 L822.06 443.46 L822.07 441.23 L822.08 440.00" stroke="#1581ec" stroke-width="1.90" stroke-dasharray="2.7 2.4"/>
<path d="M438.90 709.89 L450.44 708.31 L461.64 706.73 L472.50 705.13 L483.03 703.53 L493.24 701.93 L503.15 700.31 L512.76 698.70 L522.08 697.07 L531.12 695.45 L539.89 693.82 L548.39 692.19 L556.64 690.56 L564.64 688.93 L572.40 687.30 L579.92 685.67 L587.22 684.03 L594.30 682.41 L601.17 680.78 L607.83 679.15 L614.29 677.53 L620.55 675.91 L626.63 674.29 L632.52 672.68 L638.24 671.07 L643.78 669.47 L649.16 667.87 L654.38 666.28 L659.43 664.69 L664.34 663.11 L669.10 661.54 L673.72 659.97 L678.19 658.41 L682.53 656.85 L686.75 655.30 L690.83 653.76 L694.79 652.23 L698.64 650.70 L702.36 649.18 L705.98 647.67 L709.48 646.17 L712.88 644.67 L716.18 643.19 L719.38 641.71 L722.48 640.24 L725.49 638.78 L728.41 637.33 L731.24 635.89 L733.99 634.46 L736.65 633.03 L739.24 631.62 L741.74 630.21 L744.17 628.81 L746.53 627.43 L748.81 626.05 L751.03 624.68 L753.18 623.32 L755.27 621.97 L757.29 620.63 L759.25 619.30 L761.16 617.98 L763.00 616.67 L764.79 615.37 L766.53 614.08 L768.21 612.80 L769.85 611.52 L771.43 610.26 L772.97 609.01 L774.46 607.77 L775.90 606.53 L777.30 605.31 L778.66 604.10 L779.98 602.89 L781.26 601.70 L782.50 600.51 L783.71 599.34 L784.87 598.18 L786.01 597.02 L787.10 595.87 L788.17 594.74 L789.20 593.61 L790.20 592.50 L791.18 591.39 L792.12 590.29 L793.03 589.21 L793.92 588.13 L794.78 587.06 L795.61 586.00 L796.42 584.95 L797.21 583.91 L797.97 582.88 L798.71 581.86 L799.42 580.85 L800.12 579.85 L800.79 578.86 L801.44 577.88 L802.08 576.91 L802.69 575.94 L803.29 574.99 L803.87 574.04 L804.43 573.11 L804.97 572.18 L805.50 571.27 L806.01 570.36 L806.51 569.46 L806.99 568.57 L807.45 567.69 L807.91 566.82 L808.35 565.96 L808.77 565.11 L809.18 564.27 L809.59 563.43 L809.97 562.61 L810.35 561.79 L810.72 560.98 L811.07 560.19 L811.41 559.40 L811.75 558.62 L812.07 557.85 L812.39 557.09 L812.69 556.34 L812.99 555.59 L813.27 554.86 L813.55 554.13 L813.82 553.42 L814.08 552.71 L814.33 552.01 L814.58 551.32 L814.82 550.64 L815.05 549.97 L815.27 549.31 L815.49 548.65 L815.70 548.01 L815.91 547.37 L816.10 546.75 L816.30 546.13 L816.48 545.52 L816.66 544.92 L816.84 544.33 L817.01 543.74 L817.18 543.17 L817.34 542.60 L817.49 542.05 L817.64 541.50 L817.79 540.96 L817.93 540.43 L818.07 539.91 L818.20 539.40 L818.33 538.90 L818.46 538.40 L818.58 537.92 L818.70 537.44 L818.81 536.97 L818.92 536.51 L819.03 536.06 L819.13 535.62 L819.23 535.19 L819.33 534.77 L819.43 534.36 L819.52 533.95 L819.61 533.56 L819.70 533.17 L819.78 532.79 L819.86 532.43 L819.94 532.07 L820.02 531.72 L820.09 531.38 L820.17 531.04 L820.24 530.72 L820.30 530.41 L820.37 530.11 L820.43 529.81 L820.50 529.53 L820.56 529.25 L820.62 528.99 L820.67 528.73 L820.73 528.48 L820.78 528.24 L820.83 528.02 L820.88 527.80 L820.93 527.59 L820.98 527.39 L821.02 527.20 L821.07 527.02 L821.11 526.85 L821.15 526.69 L821.19 526.54 L821.23 526.41 L821.27 526.28 L821.31 526.16 L821.34 526.05 L821.38 525.95 L821.41 525.86 L821.45 525.78 L821.48 525.72 L821.51 525.66 L821.54 525.62 L821.57 525.58 L821.59 525.56 L821.62 525.54 L821.65 525.54 L822.40 480.00" stroke="#000" stroke-width="1.80" stroke-dasharray="5.7 2.15"/>
</g>
<g stroke="#000" stroke-width="2.5" fill="none" stroke-linecap="square">
<rect x="54.4" y="6.4" width="768.6" height="768.9"/>
<path d="M438.1 6.4V775.3 M54.4 391.4H823.0"/>
</g>
<path d="M61.0 390.2v-4.1M79.5 390.2v-2.2M97.9 390.2v-2.2M116.4 390.2v-2.2M134.9 390.2v-2.2M153.3 390.2v-4.1M171.8 390.2v-2.2M190.3 390.2v-2.2M208.7 390.2v-2.2M227.2 390.2v-2.2M245.7 390.2v-4.1M264.1 390.2v-2.2M282.6 390.2v-2.2M301.0 390.2v-2.2M319.5 390.2v-2.2M338.0 390.2v-4.1M356.4 390.2v-2.2M374.9 390.2v-2.2M393.4 390.2v-2.2M411.8 390.2v-2.2M430.3 390.2v-4.1M438.0 390.2v-4.1M457.2 390.2v-2.2M476.4 390.2v-2.2M495.7 390.2v-2.2M514.9 390.2v-2.2M534.1 390.2v-4.1M553.4 390.2v-2.2M572.6 390.2v-2.2M591.8 390.2v-2.2M611.0 390.2v-2.2M630.2 390.2v-4.1M649.5 390.2v-2.2M668.7 390.2v-2.2M687.9 390.2v-2.2M707.2 390.2v-2.2M726.4 390.2v-4.1M745.6 390.2v-2.2M764.8 390.2v-2.2M784.0 390.2v-2.2M803.3 390.2v-2.2M822.5 390.2v-4.1" stroke="#777" stroke-width="0.6" fill="none"/>
<path d="M61.0 6.4v4.2M61.0 391.4v4.2M61.0 775.3v-3.7M79.5 6.4v2.7M79.5 391.4v2.7M79.5 775.3v-2.2M97.9 6.4v2.7M97.9 391.4v2.7M97.9 775.3v-2.2M116.4 6.4v2.7M116.4 391.4v2.7M116.4 775.3v-2.2M134.9 6.4v2.7M134.9 391.4v2.7M134.9 775.3v-2.2M153.3 6.4v4.2M153.3 391.4v4.2M153.3 775.3v-3.7M171.8 6.4v2.7M171.8 391.4v2.7M171.8 775.3v-2.2M190.3 6.4v2.7M190.3 391.4v2.7M190.3 775.3v-2.2M208.7 6.4v2.7M208.7 391.4v2.7M208.7 775.3v-2.2M227.2 6.4v2.7M227.2 391.4v2.7M227.2 775.3v-2.2M245.7 6.4v4.2M245.7 391.4v4.2M245.7 775.3v-3.7M264.1 6.4v2.7M264.1 391.4v2.7M264.1 775.3v-2.2M282.6 6.4v2.7M282.6 391.4v2.7M282.6 775.3v-2.2M301.0 6.4v2.7M301.0 391.4v2.7M301.0 775.3v-2.2M319.5 6.4v2.7M319.5 391.4v2.7M319.5 775.3v-2.2M338.0 6.4v4.2M338.0 391.4v4.2M338.0 775.3v-3.7M356.4 6.4v2.7M356.4 391.4v2.7M356.4 775.3v-2.2M374.9 6.4v2.7M374.9 391.4v2.7M374.9 775.3v-2.2M393.4 6.4v2.7M393.4 391.4v2.7M393.4 775.3v-2.2M411.8 6.4v2.7M411.8 391.4v2.7M411.8 775.3v-2.2M430.3 6.4v4.2M430.3 391.4v4.2M430.3 775.3v-3.7M438.0 6.4v4.2M438.0 391.4v4.2M438.0 775.3v-3.7M457.2 6.4v2.7M457.2 391.4v2.7M457.2 775.3v-2.2M476.4 6.4v2.7M476.4 391.4v2.7M476.4 775.3v-2.2M495.7 6.4v2.7M495.7 391.4v2.7M495.7 775.3v-2.2M514.9 6.4v2.7M514.9 391.4v2.7M514.9 775.3v-2.2M534.1 6.4v4.2M534.1 391.4v4.2M534.1 775.3v-3.7M553.4 6.4v2.7M553.4 391.4v2.7M553.4 775.3v-2.2M572.6 6.4v2.7M572.6 391.4v2.7M572.6 775.3v-2.2M591.8 6.4v2.7M591.8 391.4v2.7M591.8 775.3v-2.2M611.0 6.4v2.7M611.0 391.4v2.7M611.0 775.3v-2.2M630.2 6.4v4.2M630.2 391.4v4.2M630.2 775.3v-3.7M649.5 6.4v2.7M649.5 391.4v2.7M649.5 775.3v-2.2M668.7 6.4v2.7M668.7 391.4v2.7M668.7 775.3v-2.2M687.9 6.4v2.7M687.9 391.4v2.7M687.9 775.3v-2.2M707.2 6.4v2.7M707.2 391.4v2.7M707.2 775.3v-2.2M726.4 6.4v4.2M726.4 391.4v4.2M726.4 775.3v-3.7M745.6 6.4v2.7M745.6 391.4v2.7M745.6 775.3v-2.2M764.8 6.4v2.7M764.8 391.4v2.7M764.8 775.3v-2.2M784.0 6.4v2.7M784.0 391.4v2.7M784.0 775.3v-2.2M803.3 6.4v2.7M803.3 391.4v2.7M803.3 775.3v-2.2M822.5 6.4v4.2M822.5 391.4v4.2M822.5 775.3v-3.7" stroke="#000" stroke-width="1.9" fill="none"/>
<path d="M54.4 267.0h4.5M438.1 267.0h-4.5M438.1 267.0h4.5M823.0 267.0h-4.5M54.4 174.3h4.5M438.1 174.3h-4.5M438.1 174.3h4.5M823.0 174.3h-4.5M54.4 81.6h4.5M438.1 81.6h-4.5M438.1 81.6h4.5M823.0 81.6h-4.5M54.4 335.2h2.8M438.1 335.2h-2.8M438.1 335.2h2.8M823.0 335.2h-2.8M54.4 296.8h2.8M438.1 296.8h-2.8M438.1 296.8h2.8M823.0 296.8h-2.8M54.4 242.6h2.8M438.1 242.6h-2.8M438.1 242.6h2.8M823.0 242.6h-2.8M54.4 222.0h2.8M438.1 222.0h-2.8M438.1 222.0h2.8M823.0 222.0h-2.8M54.4 204.1h2.8M438.1 204.1h-2.8M438.1 204.1h2.8M823.0 204.1h-2.8M54.4 188.4h2.8M438.1 188.4h-2.8M438.1 188.4h2.8M823.0 188.4h-2.8M54.4 120.1h2.8M438.1 120.1h-2.8M438.1 120.1h2.8M823.0 120.1h-2.8M54.4 27.4h2.8M438.1 27.4h-2.8M438.1 27.4h2.8M823.0 27.4h-2.8M54.4 652.0h4.5M438.1 652.0h-4.5M438.1 652.0h4.5M823.0 652.0h-4.5M54.4 559.3h4.5M438.1 559.3h-4.5M438.1 559.3h4.5M823.0 559.3h-4.5M54.4 466.6h4.5M438.1 466.6h-4.5M438.1 466.6h4.5M823.0 466.6h-4.5M54.4 720.2h2.8M438.1 720.2h-2.8M438.1 720.2h2.8M823.0 720.2h-2.8M54.4 681.8h2.8M438.1 681.8h-2.8M438.1 681.8h2.8M823.0 681.8h-2.8M54.4 627.6h2.8M438.1 627.6h-2.8M438.1 627.6h2.8M823.0 627.6h-2.8M54.4 607.0h2.8M438.1 607.0h-2.8M438.1 607.0h2.8M823.0 607.0h-2.8M54.4 589.1h2.8M438.1 589.1h-2.8M438.1 589.1h2.8M823.0 589.1h-2.8M54.4 573.4h2.8M438.1 573.4h-2.8M438.1 573.4h2.8M823.0 573.4h-2.8M54.4 505.1h2.8M438.1 505.1h-2.8M438.1 505.1h2.8M823.0 505.1h-2.8M54.4 412.4h2.8M438.1 412.4h-2.8M438.1 412.4h2.8M823.0 412.4h-2.8" stroke="#a8a8a8" stroke-width="0.45" fill="none"/>
<g opacity="0.996">
<g font-size="15.4" fill="#000">
<text x="50.6" y="86.7" text-anchor="end">2</text>
<text x="50.6" y="179.4" text-anchor="end">1</text>
<text x="50.6" y="272.1" text-anchor="end">0.5</text>
<text x="50.6" y="396.2" text-anchor="end">0.2</text>
<text x="50.6" y="472.4" text-anchor="end">2</text>
<text x="50.6" y="565.1" text-anchor="end">1</text>
<text x="50.6" y="657.8" text-anchor="end">0.5</text>
<text x="50.6" y="780.8" text-anchor="end">0.2</text>
<text x="61.3" y="793.4" text-anchor="middle">−<tspan dx="1.0">1.0</tspan></text>
<text x="153.6" y="793.4" text-anchor="middle">−<tspan dx="1.0">0.5</tspan></text>
<text x="245.7" y="793.4" text-anchor="middle">0.0</text>
<text x="338.0" y="793.4" text-anchor="middle">0.5</text>
<text x="430.3" y="793.4" text-anchor="middle">1.0</text>
<text x="534.4" y="793.4" text-anchor="middle">−<tspan dx="1.0">0.5</tspan></text>
<text x="630.2" y="793.4" text-anchor="middle">0.0</text>
<text x="726.4" y="793.4" text-anchor="middle">0.5</text>
<text x="822.5" y="793.4" text-anchor="middle">1.0</text>
</g>
<g transform="translate(18.4 231.7) rotate(-90)" font-size="20"><text x="0" y="0">d</text><text transform="translate(11.8 0) scale(1.22 1)" font-style="italic">σ</text><text x="25.9" y="0">/</text><text x="32.0" y="0">d</text><text x="42.6" y="0">C</text><text x="57.0" y="3.0" font-size="14.3" font-style="italic">B</text></g>
<g transform="translate(18.4 616.7) rotate(-90)" font-size="20"><text x="0" y="0">d</text><text transform="translate(11.8 0) scale(1.22 1)" font-style="italic">σ</text><text x="25.9" y="0">/</text><text x="32.0" y="0">d</text><text x="42.6" y="0">C</text><text x="57.0" y="3.0" font-size="14.3" font-style="italic">B</text></g>
<text x="246.2" y="818.6" font-size="19.2" font-style="italic" text-anchor="middle">C<tspan font-size="13.2" dy="3.6">B</tspan></text>
<text x="630.2" y="818.6" font-size="19.2" font-style="italic" text-anchor="middle">C<tspan font-size="13.2" dy="3.6">B</tspan></text>
<text x="73.0" y="41.0" font-size="14.5" fill="#a89e56"><tspan font-style="italic">L</tspan><tspan font-size="10.3" dy="2.6" dx="0.7">0</tspan><tspan dy="-2.6" dx="1.3">=</tspan><tspan dx="0.5">0</tspan></text><path d="M74.40 29.70 c0.7 -1.25 1.6 -1.05 2.2 -0.45 s1.4 0.8 2.2 -0.5" stroke="#a89e56" stroke-width="0.95" fill="none"/><text x="73.0" y="62.2" font-size="14.5" fill="#1581ec"><tspan font-style="italic">L</tspan><tspan font-size="10.3" dy="2.6" dx="0.7">0</tspan><tspan dy="-2.6" dx="1.3">=</tspan><tspan dx="0.5">0.5</tspan></text><path d="M74.40 51.00 c0.7 -1.25 1.6 -1.05 2.2 -0.45 s1.4 0.8 2.2 -0.5" stroke="#1581ec" stroke-width="0.95" fill="none"/><text x="73.0" y="83.6" font-size="14.5" fill="#743a90"><tspan font-style="italic">L</tspan><tspan font-size="10.3" dy="2.6" dx="0.7">0</tspan><tspan dy="-2.6" dx="1.3">=</tspan><tspan dx="0.5">1</tspan></text><path d="M74.40 72.30 c0.7 -1.25 1.6 -1.05 2.2 -0.45 s1.4 0.8 2.2 -0.5" stroke="#743a90" stroke-width="0.95" fill="none"/>
<text x="459.3" y="41.0" font-size="14.5" fill="#a89e56"><tspan font-style="italic">L</tspan><tspan font-size="10.3" dy="2.6" dx="0.7">0</tspan><tspan dy="-2.6" dx="1.3">=</tspan><tspan dx="0.5">0</tspan></text><path d="M460.70 29.80 c0.7 -1.25 1.6 -1.05 2.2 -0.45 s1.4 0.8 2.2 -0.5" stroke="#a89e56" stroke-width="0.95" fill="none"/><text x="459.3" y="62.3" font-size="14.5" fill="#1581ec"><tspan font-style="italic">L</tspan><tspan font-size="10.3" dy="2.6" dx="0.7">0</tspan><tspan dy="-2.6" dx="1.3">=</tspan><tspan dx="0.5">0.5</tspan></text><path d="M460.70 51.10 c0.7 -1.25 1.6 -1.05 2.2 -0.45 s1.4 0.8 2.2 -0.5" stroke="#1581ec" stroke-width="0.95" fill="none"/><text x="459.3" y="83.7" font-size="14.5" fill="#743a90"><tspan font-style="italic">L</tspan><tspan font-size="10.3" dy="2.6" dx="0.7">0</tspan><tspan dy="-2.6" dx="1.3">=</tspan><tspan dx="0.5">1</tspan></text><path d="M460.70 72.40 c0.7 -1.25 1.6 -1.05 2.2 -0.45 s1.4 0.8 2.2 -0.5" stroke="#743a90" stroke-width="0.95" fill="none"/>
<text x="73.0" y="426.2" font-size="14.5" fill="#a89e56"><tspan font-style="italic">L</tspan><tspan font-size="10.3" dy="2.6" dx="0.7">0</tspan><tspan dy="-2.6" dx="1.3">=</tspan><tspan dx="0.5">0</tspan></text><path d="M74.40 414.95 c0.7 -1.25 1.6 -1.05 2.2 -0.45 s1.4 0.8 2.2 -0.5" stroke="#a89e56" stroke-width="0.95" fill="none"/><text x="73.0" y="447.5" font-size="14.5" fill="#1581ec"><tspan font-style="italic">L</tspan><tspan font-size="10.3" dy="2.6" dx="0.7">0</tspan><tspan dy="-2.6" dx="1.3">=</tspan><tspan dx="0.5">0.5</tspan></text><path d="M74.40 436.25 c0.7 -1.25 1.6 -1.05 2.2 -0.45 s1.4 0.8 2.2 -0.5" stroke="#1581ec" stroke-width="0.95" fill="none"/><text x="73.0" y="468.8" font-size="14.5" fill="#743a90"><tspan font-style="italic">L</tspan><tspan font-size="10.3" dy="2.6" dx="0.7">0</tspan><tspan dy="-2.6" dx="1.3">=</tspan><tspan dx="0.5">1</tspan></text><path d="M74.40 457.55 c0.7 -1.25 1.6 -1.05 2.2 -0.45 s1.4 0.8 2.2 -0.5" stroke="#743a90" stroke-width="0.95" fill="none"/>
<text x="459.3" y="426.4" font-size="14.5" fill="#a89e56"><tspan font-style="italic">L</tspan><tspan font-size="10.3" dy="2.6" dx="0.7">0</tspan><tspan dy="-2.6" dx="1.3">=</tspan><tspan dx="0.5">0</tspan></text><path d="M460.70 415.15 c0.7 -1.25 1.6 -1.05 2.2 -0.45 s1.4 0.8 2.2 -0.5" stroke="#a89e56" stroke-width="0.95" fill="none"/><text x="459.3" y="447.7" font-size="14.5" fill="#1581ec"><tspan font-style="italic">L</tspan><tspan font-size="10.3" dy="2.6" dx="0.7">0</tspan><tspan dy="-2.6" dx="1.3">=</tspan><tspan dx="0.5">0.5</tspan></text><path d="M460.70 436.45 c0.7 -1.25 1.6 -1.05 2.2 -0.45 s1.4 0.8 2.2 -0.5" stroke="#1581ec" stroke-width="0.95" fill="none"/><text x="459.3" y="469.0" font-size="14.5" fill="#743a90"><tspan font-style="italic">L</tspan><tspan font-size="10.3" dy="2.6" dx="0.7">0</tspan><tspan dy="-2.6" dx="1.3">=</tspan><tspan dx="0.5">1</tspan></text><path d="M460.70 457.75 c0.7 -1.25 1.6 -1.05 2.2 -0.45 s1.4 0.8 2.2 -0.5" stroke="#743a90" stroke-width="0.95" fill="none"/>
<g font-size="14.2">
<text x="418.6" y="377.4">a</text><text x="805.5" y="377.1">b</text>
<text x="419.6" y="762.5">c</text><text x="805.5" y="762.5">d</text>
</g>
<text x="78.6" y="261.0" font-size="15.7">isotropic</text>
<g font-size="14.5">
<text x="76.4" y="355.7">ln</text>
<path d="M93.4 333.2 Q82.6 350.8 93.4 368.4 Q85.9 350.8 93.4 333.2Z" fill="#000" stroke="#000" stroke-width="0.5"/>
<path d="M198.2 333.2 Q209 350.8 198.2 368.4 Q205.7 350.8 198.2 333.2Z" fill="#000" stroke="#000" stroke-width="0.5"/>
<path d="M95.1 349.9H172.9" stroke="#000" stroke-width="1.1"/>
<text x="95.9" y="345.2"><tspan font-style="italic">L</tspan><tspan font-size="10.3" dy="2.6" font-style="italic" dx="0.3">c</tspan><tspan dy="-2.6" dx="0.6"> + </tspan><tspan font-style="italic">L</tspan><tspan font-size="10.3" dy="2.6" font-style="italic" dx="0.4">s</tspan><tspan dy="-2.6" dx="0.4"> − </tspan><tspan font-style="italic">L</tspan><tspan font-size="10.3" dy="2.6" dx="0.3">0</tspan></text>
<text x="99.7" y="367.3"><tspan font-style="italic">L</tspan><tspan font-size="10.3" dy="2.6" dx="0.3">0</tspan><tspan dy="-2.6" dx="0.4"> − </tspan><tspan font-style="italic">L</tspan><tspan font-size="10.3" dy="2.6" dx="0.3">0</tspan><tspan dy="-2.6" dx="0.5"> </tspan><tspan font-style="italic">C</tspan><tspan font-size="10.3" dy="2.6" font-style="italic" dx="0.2">B</tspan></text>
<text x="178.2" y="355.7">+ 1</text>
</g>
</g>
</svg></body></html>
